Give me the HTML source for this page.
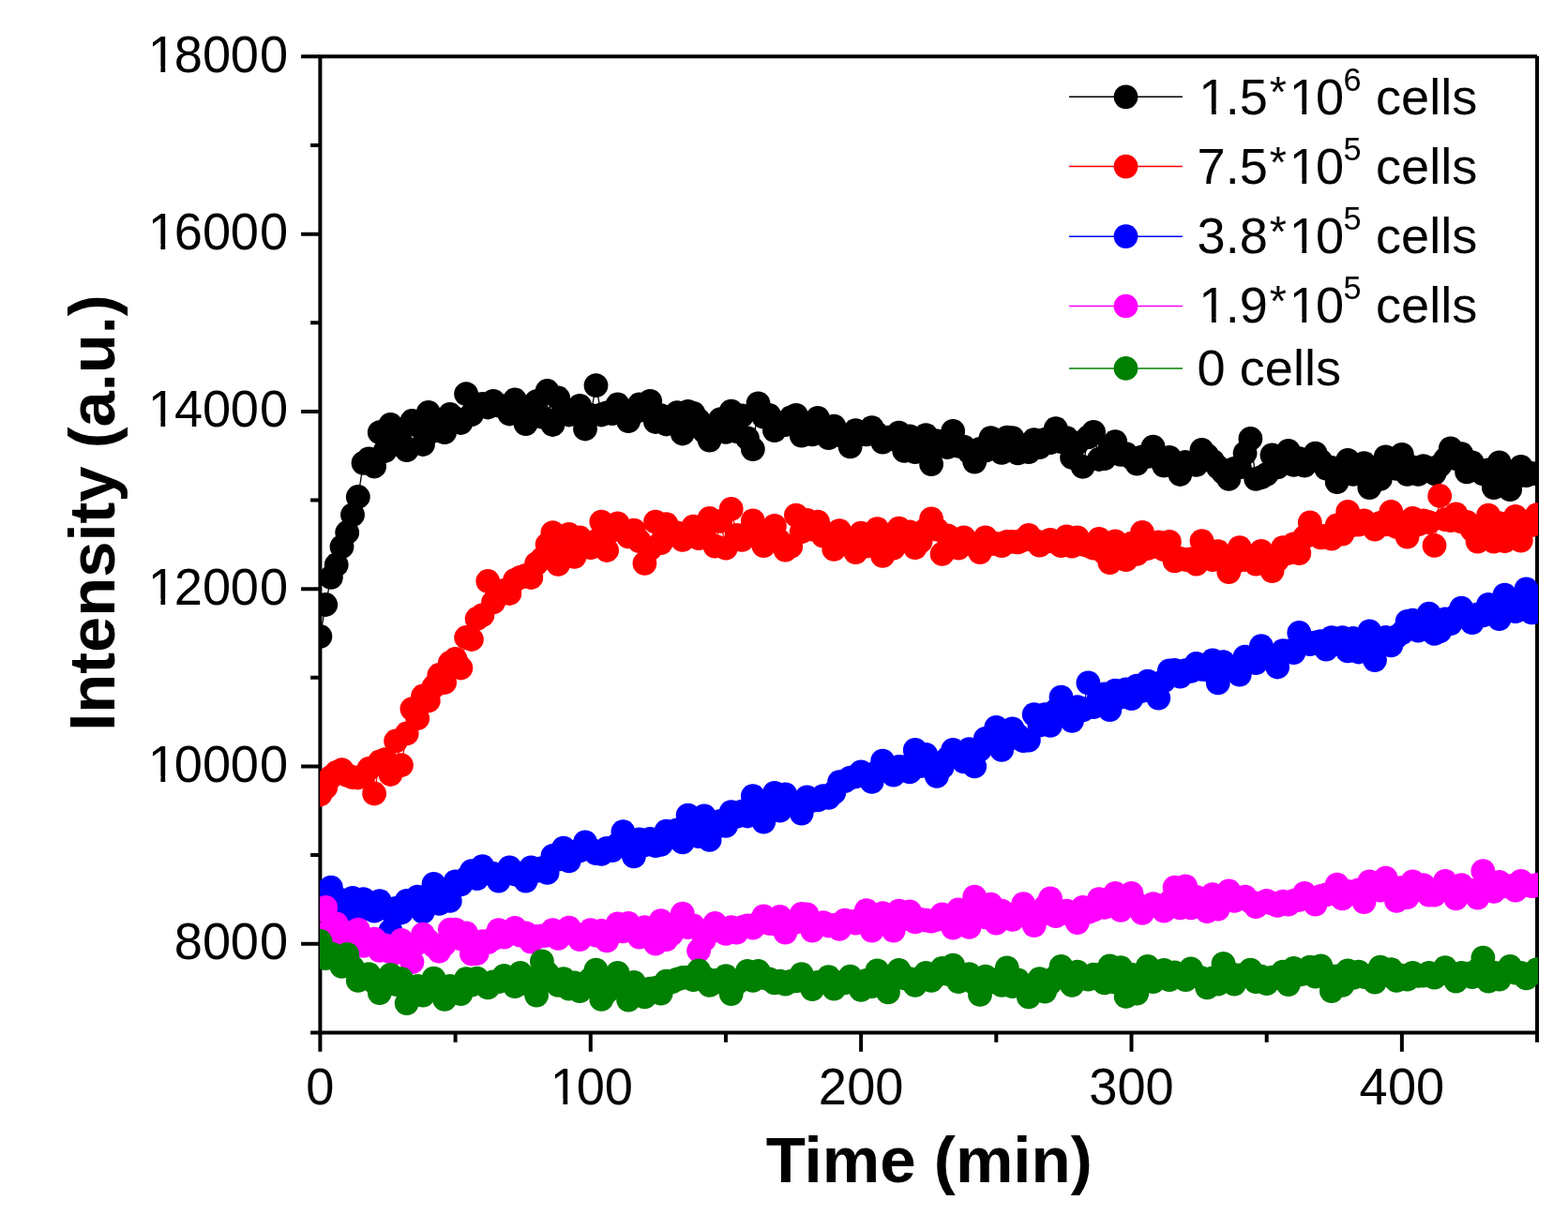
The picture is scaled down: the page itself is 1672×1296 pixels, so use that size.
<!DOCTYPE html>
<html lang="en"><head><meta charset="utf-8"><title>Intensity vs Time</title>
<style>html,body{margin:0;padding:0;background:#fff}body{width:1672px;height:1296px;overflow:hidden}svg{display:block}text{font-family:"Liberation Sans",sans-serif;fill:#000}.tk{font-size:54.2px}.ax{font-weight:bold}.lg{font-size:54.2px}.sup{font-size:34.3px}</style></head><body>
<svg width="1672" height="1296" viewBox="0 0 1672 1296">
<rect width="1672" height="1296" fill="#fff"/>
<defs><clipPath id="c"><rect x="341.00" y="60.35" width="1299.00" height="1041.05"/></clipPath></defs>
<g stroke="#000" stroke-width="4" fill="none" stroke-linecap="butt">
<path d="M341.40 60.35 H1639.05 V1101.40 H341.40 Z" stroke-linejoin="miter"/>
<path d="M341.40 1101.40H331.10M341.40 1006.76H321.10M341.40 912.12H331.10M341.40 817.48H321.10M341.40 722.84H331.10M341.40 628.20H321.10M341.40 533.55H331.10M341.40 438.91H321.10M341.40 344.27H331.10M341.40 249.63H321.10M341.40 154.99H331.10M341.40 60.35H321.10M341.40 1101.40V1121.70M485.58 1101.40V1111.70M629.77 1101.40V1121.70M773.95 1101.40V1111.70M918.13 1101.40V1121.70M1062.32 1101.40V1111.70M1206.50 1101.40V1121.70M1350.68 1101.40V1111.70M1494.87 1101.40V1121.70M1639.05 1101.40V1111.70"/>
</g>
<g clip-path="url(#c)">
<g fill="#000000" stroke="none">
<polyline fill="none" stroke="#000000" stroke-width="1.3" points="341.4,678.8 347.2,645.0 352.9,615.8 358.7,602.5 364.5,583.2 370.2,568.0 376.0,549.2 381.8,530.0 387.5,493.8 393.3,489.3 399.1,497.5 404.8,461.2 410.6,481.0 416.4,452.8 422.1,459.8 427.9,472.4 433.7,480.2 439.4,449.0 445.2,453.9 451.0,474.0 456.8,439.8 462.5,459.6 468.3,448.9 474.1,461.2 479.8,442.0 485.6,446.4 491.4,451.0 497.1,420.2 502.9,442.2 508.6,431.5 514.4,430.9 520.2,434.5 526.0,427.8 531.7,432.7 537.5,433.4 543.3,441.5 549.0,426.5 554.8,440.7 560.6,452.2 566.3,444.4 572.1,428.2 577.9,444.7 583.6,417.0 589.4,453.0 595.2,424.5 600.9,438.0 606.7,442.5 612.5,439.1 618.2,432.8 624.0,457.5 629.8,443.0 635.5,411.2 641.3,442.5 647.1,440.4 652.8,441.2 658.6,431.5 664.4,439.0 670.1,449.2 675.9,440.4 681.7,431.5 687.4,437.6 693.2,427.8 699.0,450.0 704.7,443.2 710.5,452.5 716.3,447.8 722.0,440.2 727.8,462.5 733.6,439.0 739.4,440.8 745.1,448.4 750.9,460.2 756.6,469.6 762.4,458.7 768.2,447.2 774.0,460.9 779.7,438.6 785.5,460.2 791.2,443.3 797.0,467.5 802.8,479.1 808.5,430.4 814.3,444.6 820.1,442.9 825.9,459.1 831.6,452.2 837.4,453.1 843.2,445.5 848.9,442.9 854.7,464.6 860.5,452.4 866.2,463.4 872.0,445.9 877.8,457.3 883.5,467.1 889.3,454.6 895.1,463.8 900.8,465.5 906.6,476.4 912.4,459.1 918.1,462.9 923.9,463.4 929.7,456.1 935.4,463.1 941.2,471.6 947.0,466.7 952.7,468.4 958.5,461.6 964.3,480.9 970.0,465.4 975.8,482.1 981.6,478.5 987.3,464.1 993.1,495.1 998.9,470.4 1004.6,475.1 1010.4,477.1 1016.2,459.9 1022.0,475.8 1027.7,476.6 1033.5,482.1 1039.2,492.6 1045.0,478.9 1050.8,480.7 1056.5,467.1 1062.3,475.9 1068.1,482.9 1073.8,466.6 1079.6,467.1 1085.4,483.4 1091.2,475.4 1096.9,482.1 1102.7,469.1 1108.5,477.1 1114.2,468.9 1120.0,472.1 1125.8,457.1 1131.5,471.1 1137.3,467.1 1143.1,488.0 1148.8,472.6 1154.6,497.8 1160.4,466.3 1166.1,460.9 1171.9,490.0 1177.7,489.1 1183.4,476.6 1189.2,471.1 1195.0,484.8 1200.7,484.1 1206.5,488.2 1212.3,494.6 1218.0,487.3 1223.8,486.8 1229.6,476.6 1235.3,488.3 1241.1,496.6 1246.9,487.9 1252.6,496.2 1258.4,506.0 1264.2,492.8 1269.9,493.9 1275.7,495.9 1281.5,479.9 1287.2,485.8 1293.0,491.7 1298.8,498.3 1304.5,504.2 1310.3,510.9 1316.1,500.0 1321.8,498.3 1327.6,483.3 1333.4,467.9 1339.2,510.8 1344.9,509.1 1350.7,505.8 1356.5,485.4 1362.2,498.4 1368.0,490.0 1373.8,480.9 1379.5,495.9 1385.3,489.1 1391.0,496.6 1396.8,490.2 1402.6,483.6 1408.4,491.9 1414.1,499.6 1419.9,498.9 1425.7,514.1 1431.4,503.4 1437.2,490.9 1443.0,505.9 1448.7,501.8 1454.5,494.1 1460.3,520.1 1466.0,507.5 1471.8,510.9 1477.6,487.4 1483.3,494.5 1489.1,499.9 1494.9,484.9 1500.6,505.9 1506.4,498.4 1512.2,505.9 1517.9,497.1 1523.7,499.3 1529.5,505.0 1535.2,496.7 1541.0,490.1 1546.8,478.4 1552.5,489.2 1558.3,484.1 1564.1,503.4 1569.8,493.4 1575.6,501.7 1581.4,505.4 1587.1,501.4 1592.9,520.1 1598.7,493.4 1604.5,513.5 1610.2,522.1 1616.0,509.1 1621.8,497.9 1627.5,507.1 1633.3,505.0 1639.0,505.4"/>
<circle cx="341.4" cy="678.8" r="12.9"/><circle cx="347.2" cy="645.0" r="12.9"/><circle cx="352.9" cy="615.8" r="12.9"/><circle cx="358.7" cy="602.5" r="12.9"/><circle cx="364.5" cy="583.2" r="12.9"/><circle cx="370.2" cy="568.0" r="12.9"/><circle cx="376.0" cy="549.2" r="12.9"/><circle cx="381.8" cy="530.0" r="12.9"/><circle cx="387.5" cy="493.8" r="12.9"/><circle cx="393.3" cy="489.3" r="12.9"/><circle cx="399.1" cy="497.5" r="12.9"/><circle cx="404.8" cy="461.2" r="12.9"/><circle cx="410.6" cy="481.0" r="12.9"/><circle cx="416.4" cy="452.8" r="12.9"/><circle cx="422.1" cy="459.8" r="12.9"/><circle cx="427.9" cy="472.4" r="12.9"/><circle cx="433.7" cy="480.2" r="12.9"/><circle cx="439.4" cy="449.0" r="12.9"/><circle cx="445.2" cy="453.9" r="12.9"/><circle cx="451.0" cy="474.0" r="12.9"/><circle cx="456.8" cy="439.8" r="12.9"/><circle cx="462.5" cy="459.6" r="12.9"/><circle cx="468.3" cy="448.9" r="12.9"/><circle cx="474.1" cy="461.2" r="12.9"/><circle cx="479.8" cy="442.0" r="12.9"/><circle cx="485.6" cy="446.4" r="12.9"/><circle cx="491.4" cy="451.0" r="12.9"/><circle cx="497.1" cy="420.2" r="12.9"/><circle cx="502.9" cy="442.2" r="12.9"/><circle cx="508.6" cy="431.5" r="12.9"/><circle cx="514.4" cy="430.9" r="12.9"/><circle cx="520.2" cy="434.5" r="12.9"/><circle cx="526.0" cy="427.8" r="12.9"/><circle cx="531.7" cy="432.7" r="12.9"/><circle cx="537.5" cy="433.4" r="12.9"/><circle cx="543.3" cy="441.5" r="12.9"/><circle cx="549.0" cy="426.5" r="12.9"/><circle cx="554.8" cy="440.7" r="12.9"/><circle cx="560.6" cy="452.2" r="12.9"/><circle cx="566.3" cy="444.4" r="12.9"/><circle cx="572.1" cy="428.2" r="12.9"/><circle cx="577.9" cy="444.7" r="12.9"/><circle cx="583.6" cy="417.0" r="12.9"/><circle cx="589.4" cy="453.0" r="12.9"/><circle cx="595.2" cy="424.5" r="12.9"/><circle cx="600.9" cy="438.0" r="12.9"/><circle cx="606.7" cy="442.5" r="12.9"/><circle cx="612.5" cy="439.1" r="12.9"/><circle cx="618.2" cy="432.8" r="12.9"/><circle cx="624.0" cy="457.5" r="12.9"/><circle cx="629.8" cy="443.0" r="12.9"/><circle cx="635.5" cy="411.2" r="12.9"/><circle cx="641.3" cy="442.5" r="12.9"/><circle cx="647.1" cy="440.4" r="12.9"/><circle cx="652.8" cy="441.2" r="12.9"/><circle cx="658.6" cy="431.5" r="12.9"/><circle cx="664.4" cy="439.0" r="12.9"/><circle cx="670.1" cy="449.2" r="12.9"/><circle cx="675.9" cy="440.4" r="12.9"/><circle cx="681.7" cy="431.5" r="12.9"/><circle cx="687.4" cy="437.6" r="12.9"/><circle cx="693.2" cy="427.8" r="12.9"/><circle cx="699.0" cy="450.0" r="12.9"/><circle cx="704.7" cy="443.2" r="12.9"/><circle cx="710.5" cy="452.5" r="12.9"/><circle cx="716.3" cy="447.8" r="12.9"/><circle cx="722.0" cy="440.2" r="12.9"/><circle cx="727.8" cy="462.5" r="12.9"/><circle cx="733.6" cy="439.0" r="12.9"/><circle cx="739.4" cy="440.8" r="12.9"/><circle cx="745.1" cy="448.4" r="12.9"/><circle cx="750.9" cy="460.2" r="12.9"/><circle cx="756.6" cy="469.6" r="12.9"/><circle cx="762.4" cy="458.7" r="12.9"/><circle cx="768.2" cy="447.2" r="12.9"/><circle cx="774.0" cy="460.9" r="12.9"/><circle cx="779.7" cy="438.6" r="12.9"/><circle cx="785.5" cy="460.2" r="12.9"/><circle cx="791.2" cy="443.3" r="12.9"/><circle cx="797.0" cy="467.5" r="12.9"/><circle cx="802.8" cy="479.1" r="12.9"/><circle cx="808.5" cy="430.4" r="12.9"/><circle cx="814.3" cy="444.6" r="12.9"/><circle cx="820.1" cy="442.9" r="12.9"/><circle cx="825.9" cy="459.1" r="12.9"/><circle cx="831.6" cy="452.2" r="12.9"/><circle cx="837.4" cy="453.1" r="12.9"/><circle cx="843.2" cy="445.5" r="12.9"/><circle cx="848.9" cy="442.9" r="12.9"/><circle cx="854.7" cy="464.6" r="12.9"/><circle cx="860.5" cy="452.4" r="12.9"/><circle cx="866.2" cy="463.4" r="12.9"/><circle cx="872.0" cy="445.9" r="12.9"/><circle cx="877.8" cy="457.3" r="12.9"/><circle cx="883.5" cy="467.1" r="12.9"/><circle cx="889.3" cy="454.6" r="12.9"/><circle cx="895.1" cy="463.8" r="12.9"/><circle cx="900.8" cy="465.5" r="12.9"/><circle cx="906.6" cy="476.4" r="12.9"/><circle cx="912.4" cy="459.1" r="12.9"/><circle cx="918.1" cy="462.9" r="12.9"/><circle cx="923.9" cy="463.4" r="12.9"/><circle cx="929.7" cy="456.1" r="12.9"/><circle cx="935.4" cy="463.1" r="12.9"/><circle cx="941.2" cy="471.6" r="12.9"/><circle cx="947.0" cy="466.7" r="12.9"/><circle cx="952.7" cy="468.4" r="12.9"/><circle cx="958.5" cy="461.6" r="12.9"/><circle cx="964.3" cy="480.9" r="12.9"/><circle cx="970.0" cy="465.4" r="12.9"/><circle cx="975.8" cy="482.1" r="12.9"/><circle cx="981.6" cy="478.5" r="12.9"/><circle cx="987.3" cy="464.1" r="12.9"/><circle cx="993.1" cy="495.1" r="12.9"/><circle cx="998.9" cy="470.4" r="12.9"/><circle cx="1004.6" cy="475.1" r="12.9"/><circle cx="1010.4" cy="477.1" r="12.9"/><circle cx="1016.2" cy="459.9" r="12.9"/><circle cx="1022.0" cy="475.8" r="12.9"/><circle cx="1027.7" cy="476.6" r="12.9"/><circle cx="1033.5" cy="482.1" r="12.9"/><circle cx="1039.2" cy="492.6" r="12.9"/><circle cx="1045.0" cy="478.9" r="12.9"/><circle cx="1050.8" cy="480.7" r="12.9"/><circle cx="1056.5" cy="467.1" r="12.9"/><circle cx="1062.3" cy="475.9" r="12.9"/><circle cx="1068.1" cy="482.9" r="12.9"/><circle cx="1073.8" cy="466.6" r="12.9"/><circle cx="1079.6" cy="467.1" r="12.9"/><circle cx="1085.4" cy="483.4" r="12.9"/><circle cx="1091.2" cy="475.4" r="12.9"/><circle cx="1096.9" cy="482.1" r="12.9"/><circle cx="1102.7" cy="469.1" r="12.9"/><circle cx="1108.5" cy="477.1" r="12.9"/><circle cx="1114.2" cy="468.9" r="12.9"/><circle cx="1120.0" cy="472.1" r="12.9"/><circle cx="1125.8" cy="457.1" r="12.9"/><circle cx="1131.5" cy="471.1" r="12.9"/><circle cx="1137.3" cy="467.1" r="12.9"/><circle cx="1143.1" cy="488.0" r="12.9"/><circle cx="1148.8" cy="472.6" r="12.9"/><circle cx="1154.6" cy="497.8" r="12.9"/><circle cx="1160.4" cy="466.3" r="12.9"/><circle cx="1166.1" cy="460.9" r="12.9"/><circle cx="1171.9" cy="490.0" r="12.9"/><circle cx="1177.7" cy="489.1" r="12.9"/><circle cx="1183.4" cy="476.6" r="12.9"/><circle cx="1189.2" cy="471.1" r="12.9"/><circle cx="1195.0" cy="484.8" r="12.9"/><circle cx="1200.7" cy="484.1" r="12.9"/><circle cx="1206.5" cy="488.2" r="12.9"/><circle cx="1212.3" cy="494.6" r="12.9"/><circle cx="1218.0" cy="487.3" r="12.9"/><circle cx="1223.8" cy="486.8" r="12.9"/><circle cx="1229.6" cy="476.6" r="12.9"/><circle cx="1235.3" cy="488.3" r="12.9"/><circle cx="1241.1" cy="496.6" r="12.9"/><circle cx="1246.9" cy="487.9" r="12.9"/><circle cx="1252.6" cy="496.2" r="12.9"/><circle cx="1258.4" cy="506.0" r="12.9"/><circle cx="1264.2" cy="492.8" r="12.9"/><circle cx="1269.9" cy="493.9" r="12.9"/><circle cx="1275.7" cy="495.9" r="12.9"/><circle cx="1281.5" cy="479.9" r="12.9"/><circle cx="1287.2" cy="485.8" r="12.9"/><circle cx="1293.0" cy="491.7" r="12.9"/><circle cx="1298.8" cy="498.3" r="12.9"/><circle cx="1304.5" cy="504.2" r="12.9"/><circle cx="1310.3" cy="510.9" r="12.9"/><circle cx="1316.1" cy="500.0" r="12.9"/><circle cx="1321.8" cy="498.3" r="12.9"/><circle cx="1327.6" cy="483.3" r="12.9"/><circle cx="1333.4" cy="467.9" r="12.9"/><circle cx="1339.2" cy="510.8" r="12.9"/><circle cx="1344.9" cy="509.1" r="12.9"/><circle cx="1350.7" cy="505.8" r="12.9"/><circle cx="1356.5" cy="485.4" r="12.9"/><circle cx="1362.2" cy="498.4" r="12.9"/><circle cx="1368.0" cy="490.0" r="12.9"/><circle cx="1373.8" cy="480.9" r="12.9"/><circle cx="1379.5" cy="495.9" r="12.9"/><circle cx="1385.3" cy="489.1" r="12.9"/><circle cx="1391.0" cy="496.6" r="12.9"/><circle cx="1396.8" cy="490.2" r="12.9"/><circle cx="1402.6" cy="483.6" r="12.9"/><circle cx="1408.4" cy="491.9" r="12.9"/><circle cx="1414.1" cy="499.6" r="12.9"/><circle cx="1419.9" cy="498.9" r="12.9"/><circle cx="1425.7" cy="514.1" r="12.9"/><circle cx="1431.4" cy="503.4" r="12.9"/><circle cx="1437.2" cy="490.9" r="12.9"/><circle cx="1443.0" cy="505.9" r="12.9"/><circle cx="1448.7" cy="501.8" r="12.9"/><circle cx="1454.5" cy="494.1" r="12.9"/><circle cx="1460.3" cy="520.1" r="12.9"/><circle cx="1466.0" cy="507.5" r="12.9"/><circle cx="1471.8" cy="510.9" r="12.9"/><circle cx="1477.6" cy="487.4" r="12.9"/><circle cx="1483.3" cy="494.5" r="12.9"/><circle cx="1489.1" cy="499.9" r="12.9"/><circle cx="1494.9" cy="484.9" r="12.9"/><circle cx="1500.6" cy="505.9" r="12.9"/><circle cx="1506.4" cy="498.4" r="12.9"/><circle cx="1512.2" cy="505.9" r="12.9"/><circle cx="1517.9" cy="497.1" r="12.9"/><circle cx="1523.7" cy="499.3" r="12.9"/><circle cx="1529.5" cy="505.0" r="12.9"/><circle cx="1535.2" cy="496.7" r="12.9"/><circle cx="1541.0" cy="490.1" r="12.9"/><circle cx="1546.8" cy="478.4" r="12.9"/><circle cx="1552.5" cy="489.2" r="12.9"/><circle cx="1558.3" cy="484.1" r="12.9"/><circle cx="1564.1" cy="503.4" r="12.9"/><circle cx="1569.8" cy="493.4" r="12.9"/><circle cx="1575.6" cy="501.7" r="12.9"/><circle cx="1581.4" cy="505.4" r="12.9"/><circle cx="1587.1" cy="501.4" r="12.9"/><circle cx="1592.9" cy="520.1" r="12.9"/><circle cx="1598.7" cy="493.4" r="12.9"/><circle cx="1604.5" cy="513.5" r="12.9"/><circle cx="1610.2" cy="522.1" r="12.9"/><circle cx="1616.0" cy="509.1" r="12.9"/><circle cx="1621.8" cy="497.9" r="12.9"/><circle cx="1627.5" cy="507.1" r="12.9"/><circle cx="1633.3" cy="505.0" r="12.9"/><circle cx="1639.0" cy="505.4" r="12.9"/>
</g>
<g fill="#ff0000" stroke="none">
<polyline fill="none" stroke="#ff0000" stroke-width="1.3" points="341.4,847.5 347.2,840.0 352.9,828.8 358.7,823.8 364.5,821.2 370.2,827.0 376.0,829.2 381.8,829.5 387.5,828.0 393.3,820.0 399.1,846.5 404.8,812.5 410.6,810.2 416.4,826.0 422.1,790.5 427.9,816.2 433.7,782.5 439.4,756.2 445.2,766.2 451.0,742.5 456.8,747.5 462.5,732.5 468.3,720.0 474.1,728.0 479.8,707.0 485.6,703.0 491.4,712.5 497.1,680.0 502.9,682.0 508.6,660.0 514.4,656.2 520.2,620.0 526.0,642.5 531.7,635.0 537.5,630.0 543.3,633.0 549.0,618.8 554.8,615.8 560.6,613.8 566.3,616.0 572.1,601.2 577.9,596.2 583.6,580.8 589.4,568.2 595.2,601.8 600.9,591.1 606.7,570.0 612.5,593.8 618.2,573.5 624.0,579.4 629.8,584.2 635.5,577.2 641.3,556.6 647.1,587.0 652.8,565.8 658.6,558.4 664.4,566.1 670.1,572.4 675.9,565.6 681.7,577.1 687.4,600.8 693.2,585.5 699.0,556.6 704.7,579.1 710.5,559.1 716.3,568.6 722.0,568.4 727.8,575.9 733.6,568.2 739.4,561.6 745.1,574.1 750.9,569.0 756.6,552.9 762.4,582.6 768.2,555.9 774.0,584.6 779.7,542.9 785.5,570.8 791.2,575.9 797.0,569.4 802.8,555.4 808.5,572.6 814.3,582.1 820.1,575.2 825.9,560.9 831.6,577.5 837.4,586.6 843.2,583.0 848.9,549.6 854.7,567.1 860.5,554.9 866.2,564.6 872.0,556.6 877.8,571.6 883.5,569.4 889.3,585.9 895.1,566.1 900.8,579.5 906.6,575.4 912.4,589.1 918.1,568.6 923.9,582.6 929.7,573.6 935.4,564.1 941.2,592.9 947.0,580.8 952.7,584.6 958.5,563.6 964.3,573.6 970.0,567.5 975.8,584.1 981.6,577.5 987.3,564.9 993.1,553.4 998.9,564.7 1004.6,590.9 1010.4,571.4 1016.2,578.7 1022.0,584.6 1027.7,573.4 1033.5,580.1 1039.2,580.7 1045.0,589.1 1050.8,573.4 1056.5,580.1 1062.3,579.8 1068.1,582.1 1073.8,577.9 1079.6,577.9 1085.4,578.4 1091.2,575.9 1096.9,570.9 1102.7,576.5 1108.5,581.6 1114.2,578.2 1120.0,575.9 1125.8,578.4 1131.5,582.1 1137.3,572.4 1143.1,582.6 1148.8,573.4 1154.6,580.7 1160.4,582.1 1166.1,584.6 1171.9,574.9 1177.7,589.6 1183.4,600.1 1189.2,577.4 1195.0,583.5 1200.7,597.1 1206.5,579.7 1212.3,590.9 1218.0,567.9 1223.8,585.0 1229.6,582.9 1235.3,578.4 1241.1,586.1 1246.9,577.9 1252.6,598.4 1258.4,596.0 1264.2,597.0 1269.9,596.5 1275.7,601.6 1281.5,577.1 1287.2,586.1 1293.0,597.1 1298.8,588.1 1304.5,597.8 1310.3,610.1 1316.1,600.4 1321.8,584.1 1327.6,597.0 1333.4,594.7 1339.2,601.6 1344.9,587.9 1350.7,598.6 1356.5,609.1 1362.2,597.3 1368.0,584.1 1373.8,590.0 1379.5,580.4 1385.3,590.1 1391.0,573.0 1396.8,557.4 1402.6,570.1 1408.4,573.3 1414.1,571.6 1419.9,574.6 1425.7,560.4 1431.4,569.6 1437.2,545.9 1443.0,560.0 1448.7,559.7 1454.5,555.4 1460.3,559.5 1466.0,564.6 1471.8,557.8 1477.6,559.3 1483.3,545.9 1489.1,562.0 1494.9,557.4 1500.6,572.6 1506.4,552.9 1512.2,559.5 1517.9,555.4 1523.7,557.1 1529.5,581.8 1535.2,529.0 1541.0,554.1 1546.8,555.1 1552.5,548.4 1558.3,556.4 1564.1,556.8 1569.8,565.1 1575.6,577.6 1581.4,569.6 1587.1,549.6 1592.9,577.6 1598.7,558.1 1604.5,577.1 1610.2,558.6 1616.0,550.9 1621.8,576.6 1627.5,560.3 1633.3,560.0 1639.0,549.1"/>
<circle cx="341.4" cy="847.5" r="12.9"/><circle cx="347.2" cy="840.0" r="12.9"/><circle cx="352.9" cy="828.8" r="12.9"/><circle cx="358.7" cy="823.8" r="12.9"/><circle cx="364.5" cy="821.2" r="12.9"/><circle cx="370.2" cy="827.0" r="12.9"/><circle cx="376.0" cy="829.2" r="12.9"/><circle cx="381.8" cy="829.5" r="12.9"/><circle cx="387.5" cy="828.0" r="12.9"/><circle cx="393.3" cy="820.0" r="12.9"/><circle cx="399.1" cy="846.5" r="12.9"/><circle cx="404.8" cy="812.5" r="12.9"/><circle cx="410.6" cy="810.2" r="12.9"/><circle cx="416.4" cy="826.0" r="12.9"/><circle cx="422.1" cy="790.5" r="12.9"/><circle cx="427.9" cy="816.2" r="12.9"/><circle cx="433.7" cy="782.5" r="12.9"/><circle cx="439.4" cy="756.2" r="12.9"/><circle cx="445.2" cy="766.2" r="12.9"/><circle cx="451.0" cy="742.5" r="12.9"/><circle cx="456.8" cy="747.5" r="12.9"/><circle cx="462.5" cy="732.5" r="12.9"/><circle cx="468.3" cy="720.0" r="12.9"/><circle cx="474.1" cy="728.0" r="12.9"/><circle cx="479.8" cy="707.0" r="12.9"/><circle cx="485.6" cy="703.0" r="12.9"/><circle cx="491.4" cy="712.5" r="12.9"/><circle cx="497.1" cy="680.0" r="12.9"/><circle cx="502.9" cy="682.0" r="12.9"/><circle cx="508.6" cy="660.0" r="12.9"/><circle cx="514.4" cy="656.2" r="12.9"/><circle cx="520.2" cy="620.0" r="12.9"/><circle cx="526.0" cy="642.5" r="12.9"/><circle cx="531.7" cy="635.0" r="12.9"/><circle cx="537.5" cy="630.0" r="12.9"/><circle cx="543.3" cy="633.0" r="12.9"/><circle cx="549.0" cy="618.8" r="12.9"/><circle cx="554.8" cy="615.8" r="12.9"/><circle cx="560.6" cy="613.8" r="12.9"/><circle cx="566.3" cy="616.0" r="12.9"/><circle cx="572.1" cy="601.2" r="12.9"/><circle cx="577.9" cy="596.2" r="12.9"/><circle cx="583.6" cy="580.8" r="12.9"/><circle cx="589.4" cy="568.2" r="12.9"/><circle cx="595.2" cy="601.8" r="12.9"/><circle cx="600.9" cy="591.1" r="12.9"/><circle cx="606.7" cy="570.0" r="12.9"/><circle cx="612.5" cy="593.8" r="12.9"/><circle cx="618.2" cy="573.5" r="12.9"/><circle cx="624.0" cy="579.4" r="12.9"/><circle cx="629.8" cy="584.2" r="12.9"/><circle cx="635.5" cy="577.2" r="12.9"/><circle cx="641.3" cy="556.6" r="12.9"/><circle cx="647.1" cy="587.0" r="12.9"/><circle cx="652.8" cy="565.8" r="12.9"/><circle cx="658.6" cy="558.4" r="12.9"/><circle cx="664.4" cy="566.1" r="12.9"/><circle cx="670.1" cy="572.4" r="12.9"/><circle cx="675.9" cy="565.6" r="12.9"/><circle cx="681.7" cy="577.1" r="12.9"/><circle cx="687.4" cy="600.8" r="12.9"/><circle cx="693.2" cy="585.5" r="12.9"/><circle cx="699.0" cy="556.6" r="12.9"/><circle cx="704.7" cy="579.1" r="12.9"/><circle cx="710.5" cy="559.1" r="12.9"/><circle cx="716.3" cy="568.6" r="12.9"/><circle cx="722.0" cy="568.4" r="12.9"/><circle cx="727.8" cy="575.9" r="12.9"/><circle cx="733.6" cy="568.2" r="12.9"/><circle cx="739.4" cy="561.6" r="12.9"/><circle cx="745.1" cy="574.1" r="12.9"/><circle cx="750.9" cy="569.0" r="12.9"/><circle cx="756.6" cy="552.9" r="12.9"/><circle cx="762.4" cy="582.6" r="12.9"/><circle cx="768.2" cy="555.9" r="12.9"/><circle cx="774.0" cy="584.6" r="12.9"/><circle cx="779.7" cy="542.9" r="12.9"/><circle cx="785.5" cy="570.8" r="12.9"/><circle cx="791.2" cy="575.9" r="12.9"/><circle cx="797.0" cy="569.4" r="12.9"/><circle cx="802.8" cy="555.4" r="12.9"/><circle cx="808.5" cy="572.6" r="12.9"/><circle cx="814.3" cy="582.1" r="12.9"/><circle cx="820.1" cy="575.2" r="12.9"/><circle cx="825.9" cy="560.9" r="12.9"/><circle cx="831.6" cy="577.5" r="12.9"/><circle cx="837.4" cy="586.6" r="12.9"/><circle cx="843.2" cy="583.0" r="12.9"/><circle cx="848.9" cy="549.6" r="12.9"/><circle cx="854.7" cy="567.1" r="12.9"/><circle cx="860.5" cy="554.9" r="12.9"/><circle cx="866.2" cy="564.6" r="12.9"/><circle cx="872.0" cy="556.6" r="12.9"/><circle cx="877.8" cy="571.6" r="12.9"/><circle cx="883.5" cy="569.4" r="12.9"/><circle cx="889.3" cy="585.9" r="12.9"/><circle cx="895.1" cy="566.1" r="12.9"/><circle cx="900.8" cy="579.5" r="12.9"/><circle cx="906.6" cy="575.4" r="12.9"/><circle cx="912.4" cy="589.1" r="12.9"/><circle cx="918.1" cy="568.6" r="12.9"/><circle cx="923.9" cy="582.6" r="12.9"/><circle cx="929.7" cy="573.6" r="12.9"/><circle cx="935.4" cy="564.1" r="12.9"/><circle cx="941.2" cy="592.9" r="12.9"/><circle cx="947.0" cy="580.8" r="12.9"/><circle cx="952.7" cy="584.6" r="12.9"/><circle cx="958.5" cy="563.6" r="12.9"/><circle cx="964.3" cy="573.6" r="12.9"/><circle cx="970.0" cy="567.5" r="12.9"/><circle cx="975.8" cy="584.1" r="12.9"/><circle cx="981.6" cy="577.5" r="12.9"/><circle cx="987.3" cy="564.9" r="12.9"/><circle cx="993.1" cy="553.4" r="12.9"/><circle cx="998.9" cy="564.7" r="12.9"/><circle cx="1004.6" cy="590.9" r="12.9"/><circle cx="1010.4" cy="571.4" r="12.9"/><circle cx="1016.2" cy="578.7" r="12.9"/><circle cx="1022.0" cy="584.6" r="12.9"/><circle cx="1027.7" cy="573.4" r="12.9"/><circle cx="1033.5" cy="580.1" r="12.9"/><circle cx="1039.2" cy="580.7" r="12.9"/><circle cx="1045.0" cy="589.1" r="12.9"/><circle cx="1050.8" cy="573.4" r="12.9"/><circle cx="1056.5" cy="580.1" r="12.9"/><circle cx="1062.3" cy="579.8" r="12.9"/><circle cx="1068.1" cy="582.1" r="12.9"/><circle cx="1073.8" cy="577.9" r="12.9"/><circle cx="1079.6" cy="577.9" r="12.9"/><circle cx="1085.4" cy="578.4" r="12.9"/><circle cx="1091.2" cy="575.9" r="12.9"/><circle cx="1096.9" cy="570.9" r="12.9"/><circle cx="1102.7" cy="576.5" r="12.9"/><circle cx="1108.5" cy="581.6" r="12.9"/><circle cx="1114.2" cy="578.2" r="12.9"/><circle cx="1120.0" cy="575.9" r="12.9"/><circle cx="1125.8" cy="578.4" r="12.9"/><circle cx="1131.5" cy="582.1" r="12.9"/><circle cx="1137.3" cy="572.4" r="12.9"/><circle cx="1143.1" cy="582.6" r="12.9"/><circle cx="1148.8" cy="573.4" r="12.9"/><circle cx="1154.6" cy="580.7" r="12.9"/><circle cx="1160.4" cy="582.1" r="12.9"/><circle cx="1166.1" cy="584.6" r="12.9"/><circle cx="1171.9" cy="574.9" r="12.9"/><circle cx="1177.7" cy="589.6" r="12.9"/><circle cx="1183.4" cy="600.1" r="12.9"/><circle cx="1189.2" cy="577.4" r="12.9"/><circle cx="1195.0" cy="583.5" r="12.9"/><circle cx="1200.7" cy="597.1" r="12.9"/><circle cx="1206.5" cy="579.7" r="12.9"/><circle cx="1212.3" cy="590.9" r="12.9"/><circle cx="1218.0" cy="567.9" r="12.9"/><circle cx="1223.8" cy="585.0" r="12.9"/><circle cx="1229.6" cy="582.9" r="12.9"/><circle cx="1235.3" cy="578.4" r="12.9"/><circle cx="1241.1" cy="586.1" r="12.9"/><circle cx="1246.9" cy="577.9" r="12.9"/><circle cx="1252.6" cy="598.4" r="12.9"/><circle cx="1258.4" cy="596.0" r="12.9"/><circle cx="1264.2" cy="597.0" r="12.9"/><circle cx="1269.9" cy="596.5" r="12.9"/><circle cx="1275.7" cy="601.6" r="12.9"/><circle cx="1281.5" cy="577.1" r="12.9"/><circle cx="1287.2" cy="586.1" r="12.9"/><circle cx="1293.0" cy="597.1" r="12.9"/><circle cx="1298.8" cy="588.1" r="12.9"/><circle cx="1304.5" cy="597.8" r="12.9"/><circle cx="1310.3" cy="610.1" r="12.9"/><circle cx="1316.1" cy="600.4" r="12.9"/><circle cx="1321.8" cy="584.1" r="12.9"/><circle cx="1327.6" cy="597.0" r="12.9"/><circle cx="1333.4" cy="594.7" r="12.9"/><circle cx="1339.2" cy="601.6" r="12.9"/><circle cx="1344.9" cy="587.9" r="12.9"/><circle cx="1350.7" cy="598.6" r="12.9"/><circle cx="1356.5" cy="609.1" r="12.9"/><circle cx="1362.2" cy="597.3" r="12.9"/><circle cx="1368.0" cy="584.1" r="12.9"/><circle cx="1373.8" cy="590.0" r="12.9"/><circle cx="1379.5" cy="580.4" r="12.9"/><circle cx="1385.3" cy="590.1" r="12.9"/><circle cx="1391.0" cy="573.0" r="12.9"/><circle cx="1396.8" cy="557.4" r="12.9"/><circle cx="1402.6" cy="570.1" r="12.9"/><circle cx="1408.4" cy="573.3" r="12.9"/><circle cx="1414.1" cy="571.6" r="12.9"/><circle cx="1419.9" cy="574.6" r="12.9"/><circle cx="1425.7" cy="560.4" r="12.9"/><circle cx="1431.4" cy="569.6" r="12.9"/><circle cx="1437.2" cy="545.9" r="12.9"/><circle cx="1443.0" cy="560.0" r="12.9"/><circle cx="1448.7" cy="559.7" r="12.9"/><circle cx="1454.5" cy="555.4" r="12.9"/><circle cx="1460.3" cy="559.5" r="12.9"/><circle cx="1466.0" cy="564.6" r="12.9"/><circle cx="1471.8" cy="557.8" r="12.9"/><circle cx="1477.6" cy="559.3" r="12.9"/><circle cx="1483.3" cy="545.9" r="12.9"/><circle cx="1489.1" cy="562.0" r="12.9"/><circle cx="1494.9" cy="557.4" r="12.9"/><circle cx="1500.6" cy="572.6" r="12.9"/><circle cx="1506.4" cy="552.9" r="12.9"/><circle cx="1512.2" cy="559.5" r="12.9"/><circle cx="1517.9" cy="555.4" r="12.9"/><circle cx="1523.7" cy="557.1" r="12.9"/><circle cx="1529.5" cy="581.8" r="12.9"/><circle cx="1535.2" cy="529.0" r="12.9"/><circle cx="1541.0" cy="554.1" r="12.9"/><circle cx="1546.8" cy="555.1" r="12.9"/><circle cx="1552.5" cy="548.4" r="12.9"/><circle cx="1558.3" cy="556.4" r="12.9"/><circle cx="1564.1" cy="556.8" r="12.9"/><circle cx="1569.8" cy="565.1" r="12.9"/><circle cx="1575.6" cy="577.6" r="12.9"/><circle cx="1581.4" cy="569.6" r="12.9"/><circle cx="1587.1" cy="549.6" r="12.9"/><circle cx="1592.9" cy="577.6" r="12.9"/><circle cx="1598.7" cy="558.1" r="12.9"/><circle cx="1604.5" cy="577.1" r="12.9"/><circle cx="1610.2" cy="558.6" r="12.9"/><circle cx="1616.0" cy="550.9" r="12.9"/><circle cx="1621.8" cy="576.6" r="12.9"/><circle cx="1627.5" cy="560.3" r="12.9"/><circle cx="1633.3" cy="560.0" r="12.9"/><circle cx="1639.0" cy="549.1" r="12.9"/>
</g>
<g fill="#0000ff" stroke="none">
<polyline fill="none" stroke="#0000ff" stroke-width="1.3" points="341.4,952.4 347.2,951.0 352.9,946.6 358.7,966.2 364.5,960.2 370.2,970.0 376.0,957.9 381.8,972.5 387.5,959.1 393.3,965.9 399.1,971.6 404.8,961.1 410.6,969.0 416.4,992.8 422.1,968.9 427.9,973.5 433.7,960.8 439.4,965.9 445.2,956.6 451.0,972.6 456.8,955.5 462.5,942.9 468.3,963.9 474.1,954.4 479.8,960.9 485.6,940.4 491.4,943.4 497.1,937.1 502.9,929.1 508.6,937.1 514.4,924.1 520.2,931.4 526.0,931.8 531.7,939.6 537.5,932.4 543.3,925.4 549.0,932.5 554.8,932.5 560.6,939.6 566.3,925.4 572.1,928.8 577.9,926.1 583.6,930.9 589.4,912.9 595.2,916.7 600.9,904.6 606.7,918.4 612.5,909.1 618.2,907.5 624.0,898.4 629.8,905.9 635.5,910.1 641.3,910.9 647.1,904.9 652.8,907.1 658.6,900.9 664.4,887.1 670.1,903.8 675.9,913.4 681.7,895.4 687.4,901.4 693.2,894.9 699.0,902.1 704.7,900.9 710.5,886.6 716.3,892.8 722.0,885.4 727.8,898.4 733.6,869.6 739.4,886.2 745.1,892.1 750.9,870.4 756.6,895.9 762.4,882.9 768.2,875.8 774.0,880.9 779.7,866.1 785.5,870.8 791.2,865.6 797.0,870.5 802.8,849.1 808.5,869.2 814.3,876.6 820.1,864.6 825.9,845.9 831.6,864.6 837.4,847.4 843.2,858.1 848.9,856.9 854.7,867.6 860.5,850.4 866.2,854.0 872.0,853.4 877.8,849.1 883.5,850.9 889.3,845.4 895.1,834.1 900.8,833.2 906.6,829.6 912.4,828.4 918.1,823.4 923.9,826.6 929.7,833.9 935.4,823.3 941.2,811.6 947.0,821.1 952.7,826.6 958.5,817.9 964.3,818.2 970.0,823.4 975.8,799.9 981.6,817.2 987.3,804.9 993.1,819.0 998.9,827.9 1004.6,818.4 1010.4,808.9 1016.2,799.9 1022.0,807.6 1027.7,812.4 1033.5,799.1 1039.2,817.4 1045.0,799.6 1050.8,787.9 1056.5,789.9 1062.3,775.9 1068.1,799.9 1073.8,789.4 1079.6,777.4 1085.4,784.6 1091.2,790.1 1096.9,789.6 1102.7,762.1 1108.5,773.7 1114.2,762.1 1120.0,773.8 1125.8,757.8 1131.5,743.6 1137.3,755.1 1143.1,768.8 1148.8,754.1 1154.6,757.4 1160.4,728.4 1166.1,754.1 1171.9,744.4 1177.7,740.4 1183.4,757.1 1189.2,736.6 1195.0,743.6 1200.7,735.4 1206.5,745.1 1212.3,731.6 1218.0,737.0 1223.8,726.6 1229.6,731.8 1235.3,744.6 1241.1,726.2 1246.9,715.4 1252.6,714.9 1258.4,721.6 1264.2,715.1 1269.9,715.9 1275.7,707.9 1281.5,713.8 1287.2,714.5 1293.0,704.5 1298.8,728.4 1304.5,706.2 1310.3,712.8 1316.1,713.8 1321.8,719.6 1327.6,700.6 1333.4,704.0 1339.2,707.1 1344.9,689.1 1350.7,701.3 1356.5,699.6 1362.2,711.5 1368.0,694.1 1373.8,694.5 1379.5,696.1 1385.3,674.9 1391.0,683.7 1396.8,687.1 1402.6,685.4 1408.4,684.1 1414.1,692.6 1419.9,680.1 1425.7,686.8 1431.4,680.1 1437.2,694.4 1443.0,680.9 1448.7,695.5 1454.5,690.4 1460.3,673.4 1466.0,704.1 1471.8,685.7 1477.6,679.9 1483.3,688.4 1489.1,679.1 1494.9,675.1 1500.6,662.9 1506.4,661.6 1512.2,672.6 1517.9,665.0 1523.7,654.6 1529.5,675.9 1535.2,673.4 1541.0,660.4 1546.8,665.1 1552.5,657.2 1558.3,648.6 1564.1,657.6 1569.8,664.1 1575.6,655.4 1581.4,656.3 1587.1,644.9 1592.9,652.9 1598.7,660.1 1604.5,634.6 1610.2,641.1 1616.0,652.1 1621.8,637.9 1627.5,628.4 1633.3,653.4 1639.0,640.0"/>
<circle cx="341.4" cy="952.4" r="12.9"/><circle cx="347.2" cy="951.0" r="12.9"/><circle cx="352.9" cy="946.6" r="12.9"/><circle cx="358.7" cy="966.2" r="12.9"/><circle cx="364.5" cy="960.2" r="12.9"/><circle cx="370.2" cy="970.0" r="12.9"/><circle cx="376.0" cy="957.9" r="12.9"/><circle cx="381.8" cy="972.5" r="12.9"/><circle cx="387.5" cy="959.1" r="12.9"/><circle cx="393.3" cy="965.9" r="12.9"/><circle cx="399.1" cy="971.6" r="12.9"/><circle cx="404.8" cy="961.1" r="12.9"/><circle cx="410.6" cy="969.0" r="12.9"/><circle cx="416.4" cy="992.8" r="12.9"/><circle cx="422.1" cy="968.9" r="12.9"/><circle cx="427.9" cy="973.5" r="12.9"/><circle cx="433.7" cy="960.8" r="12.9"/><circle cx="439.4" cy="965.9" r="12.9"/><circle cx="445.2" cy="956.6" r="12.9"/><circle cx="451.0" cy="972.6" r="12.9"/><circle cx="456.8" cy="955.5" r="12.9"/><circle cx="462.5" cy="942.9" r="12.9"/><circle cx="468.3" cy="963.9" r="12.9"/><circle cx="474.1" cy="954.4" r="12.9"/><circle cx="479.8" cy="960.9" r="12.9"/><circle cx="485.6" cy="940.4" r="12.9"/><circle cx="491.4" cy="943.4" r="12.9"/><circle cx="497.1" cy="937.1" r="12.9"/><circle cx="502.9" cy="929.1" r="12.9"/><circle cx="508.6" cy="937.1" r="12.9"/><circle cx="514.4" cy="924.1" r="12.9"/><circle cx="520.2" cy="931.4" r="12.9"/><circle cx="526.0" cy="931.8" r="12.9"/><circle cx="531.7" cy="939.6" r="12.9"/><circle cx="537.5" cy="932.4" r="12.9"/><circle cx="543.3" cy="925.4" r="12.9"/><circle cx="549.0" cy="932.5" r="12.9"/><circle cx="554.8" cy="932.5" r="12.9"/><circle cx="560.6" cy="939.6" r="12.9"/><circle cx="566.3" cy="925.4" r="12.9"/><circle cx="572.1" cy="928.8" r="12.9"/><circle cx="577.9" cy="926.1" r="12.9"/><circle cx="583.6" cy="930.9" r="12.9"/><circle cx="589.4" cy="912.9" r="12.9"/><circle cx="595.2" cy="916.7" r="12.9"/><circle cx="600.9" cy="904.6" r="12.9"/><circle cx="606.7" cy="918.4" r="12.9"/><circle cx="612.5" cy="909.1" r="12.9"/><circle cx="618.2" cy="907.5" r="12.9"/><circle cx="624.0" cy="898.4" r="12.9"/><circle cx="629.8" cy="905.9" r="12.9"/><circle cx="635.5" cy="910.1" r="12.9"/><circle cx="641.3" cy="910.9" r="12.9"/><circle cx="647.1" cy="904.9" r="12.9"/><circle cx="652.8" cy="907.1" r="12.9"/><circle cx="658.6" cy="900.9" r="12.9"/><circle cx="664.4" cy="887.1" r="12.9"/><circle cx="670.1" cy="903.8" r="12.9"/><circle cx="675.9" cy="913.4" r="12.9"/><circle cx="681.7" cy="895.4" r="12.9"/><circle cx="687.4" cy="901.4" r="12.9"/><circle cx="693.2" cy="894.9" r="12.9"/><circle cx="699.0" cy="902.1" r="12.9"/><circle cx="704.7" cy="900.9" r="12.9"/><circle cx="710.5" cy="886.6" r="12.9"/><circle cx="716.3" cy="892.8" r="12.9"/><circle cx="722.0" cy="885.4" r="12.9"/><circle cx="727.8" cy="898.4" r="12.9"/><circle cx="733.6" cy="869.6" r="12.9"/><circle cx="739.4" cy="886.2" r="12.9"/><circle cx="745.1" cy="892.1" r="12.9"/><circle cx="750.9" cy="870.4" r="12.9"/><circle cx="756.6" cy="895.9" r="12.9"/><circle cx="762.4" cy="882.9" r="12.9"/><circle cx="768.2" cy="875.8" r="12.9"/><circle cx="774.0" cy="880.9" r="12.9"/><circle cx="779.7" cy="866.1" r="12.9"/><circle cx="785.5" cy="870.8" r="12.9"/><circle cx="791.2" cy="865.6" r="12.9"/><circle cx="797.0" cy="870.5" r="12.9"/><circle cx="802.8" cy="849.1" r="12.9"/><circle cx="808.5" cy="869.2" r="12.9"/><circle cx="814.3" cy="876.6" r="12.9"/><circle cx="820.1" cy="864.6" r="12.9"/><circle cx="825.9" cy="845.9" r="12.9"/><circle cx="831.6" cy="864.6" r="12.9"/><circle cx="837.4" cy="847.4" r="12.9"/><circle cx="843.2" cy="858.1" r="12.9"/><circle cx="848.9" cy="856.9" r="12.9"/><circle cx="854.7" cy="867.6" r="12.9"/><circle cx="860.5" cy="850.4" r="12.9"/><circle cx="866.2" cy="854.0" r="12.9"/><circle cx="872.0" cy="853.4" r="12.9"/><circle cx="877.8" cy="849.1" r="12.9"/><circle cx="883.5" cy="850.9" r="12.9"/><circle cx="889.3" cy="845.4" r="12.9"/><circle cx="895.1" cy="834.1" r="12.9"/><circle cx="900.8" cy="833.2" r="12.9"/><circle cx="906.6" cy="829.6" r="12.9"/><circle cx="912.4" cy="828.4" r="12.9"/><circle cx="918.1" cy="823.4" r="12.9"/><circle cx="923.9" cy="826.6" r="12.9"/><circle cx="929.7" cy="833.9" r="12.9"/><circle cx="935.4" cy="823.3" r="12.9"/><circle cx="941.2" cy="811.6" r="12.9"/><circle cx="947.0" cy="821.1" r="12.9"/><circle cx="952.7" cy="826.6" r="12.9"/><circle cx="958.5" cy="817.9" r="12.9"/><circle cx="964.3" cy="818.2" r="12.9"/><circle cx="970.0" cy="823.4" r="12.9"/><circle cx="975.8" cy="799.9" r="12.9"/><circle cx="981.6" cy="817.2" r="12.9"/><circle cx="987.3" cy="804.9" r="12.9"/><circle cx="993.1" cy="819.0" r="12.9"/><circle cx="998.9" cy="827.9" r="12.9"/><circle cx="1004.6" cy="818.4" r="12.9"/><circle cx="1010.4" cy="808.9" r="12.9"/><circle cx="1016.2" cy="799.9" r="12.9"/><circle cx="1022.0" cy="807.6" r="12.9"/><circle cx="1027.7" cy="812.4" r="12.9"/><circle cx="1033.5" cy="799.1" r="12.9"/><circle cx="1039.2" cy="817.4" r="12.9"/><circle cx="1045.0" cy="799.6" r="12.9"/><circle cx="1050.8" cy="787.9" r="12.9"/><circle cx="1056.5" cy="789.9" r="12.9"/><circle cx="1062.3" cy="775.9" r="12.9"/><circle cx="1068.1" cy="799.9" r="12.9"/><circle cx="1073.8" cy="789.4" r="12.9"/><circle cx="1079.6" cy="777.4" r="12.9"/><circle cx="1085.4" cy="784.6" r="12.9"/><circle cx="1091.2" cy="790.1" r="12.9"/><circle cx="1096.9" cy="789.6" r="12.9"/><circle cx="1102.7" cy="762.1" r="12.9"/><circle cx="1108.5" cy="773.7" r="12.9"/><circle cx="1114.2" cy="762.1" r="12.9"/><circle cx="1120.0" cy="773.8" r="12.9"/><circle cx="1125.8" cy="757.8" r="12.9"/><circle cx="1131.5" cy="743.6" r="12.9"/><circle cx="1137.3" cy="755.1" r="12.9"/><circle cx="1143.1" cy="768.8" r="12.9"/><circle cx="1148.8" cy="754.1" r="12.9"/><circle cx="1154.6" cy="757.4" r="12.9"/><circle cx="1160.4" cy="728.4" r="12.9"/><circle cx="1166.1" cy="754.1" r="12.9"/><circle cx="1171.9" cy="744.4" r="12.9"/><circle cx="1177.7" cy="740.4" r="12.9"/><circle cx="1183.4" cy="757.1" r="12.9"/><circle cx="1189.2" cy="736.6" r="12.9"/><circle cx="1195.0" cy="743.6" r="12.9"/><circle cx="1200.7" cy="735.4" r="12.9"/><circle cx="1206.5" cy="745.1" r="12.9"/><circle cx="1212.3" cy="731.6" r="12.9"/><circle cx="1218.0" cy="737.0" r="12.9"/><circle cx="1223.8" cy="726.6" r="12.9"/><circle cx="1229.6" cy="731.8" r="12.9"/><circle cx="1235.3" cy="744.6" r="12.9"/><circle cx="1241.1" cy="726.2" r="12.9"/><circle cx="1246.9" cy="715.4" r="12.9"/><circle cx="1252.6" cy="714.9" r="12.9"/><circle cx="1258.4" cy="721.6" r="12.9"/><circle cx="1264.2" cy="715.1" r="12.9"/><circle cx="1269.9" cy="715.9" r="12.9"/><circle cx="1275.7" cy="707.9" r="12.9"/><circle cx="1281.5" cy="713.8" r="12.9"/><circle cx="1287.2" cy="714.5" r="12.9"/><circle cx="1293.0" cy="704.5" r="12.9"/><circle cx="1298.8" cy="728.4" r="12.9"/><circle cx="1304.5" cy="706.2" r="12.9"/><circle cx="1310.3" cy="712.8" r="12.9"/><circle cx="1316.1" cy="713.8" r="12.9"/><circle cx="1321.8" cy="719.6" r="12.9"/><circle cx="1327.6" cy="700.6" r="12.9"/><circle cx="1333.4" cy="704.0" r="12.9"/><circle cx="1339.2" cy="707.1" r="12.9"/><circle cx="1344.9" cy="689.1" r="12.9"/><circle cx="1350.7" cy="701.3" r="12.9"/><circle cx="1356.5" cy="699.6" r="12.9"/><circle cx="1362.2" cy="711.5" r="12.9"/><circle cx="1368.0" cy="694.1" r="12.9"/><circle cx="1373.8" cy="694.5" r="12.9"/><circle cx="1379.5" cy="696.1" r="12.9"/><circle cx="1385.3" cy="674.9" r="12.9"/><circle cx="1391.0" cy="683.7" r="12.9"/><circle cx="1396.8" cy="687.1" r="12.9"/><circle cx="1402.6" cy="685.4" r="12.9"/><circle cx="1408.4" cy="684.1" r="12.9"/><circle cx="1414.1" cy="692.6" r="12.9"/><circle cx="1419.9" cy="680.1" r="12.9"/><circle cx="1425.7" cy="686.8" r="12.9"/><circle cx="1431.4" cy="680.1" r="12.9"/><circle cx="1437.2" cy="694.4" r="12.9"/><circle cx="1443.0" cy="680.9" r="12.9"/><circle cx="1448.7" cy="695.5" r="12.9"/><circle cx="1454.5" cy="690.4" r="12.9"/><circle cx="1460.3" cy="673.4" r="12.9"/><circle cx="1466.0" cy="704.1" r="12.9"/><circle cx="1471.8" cy="685.7" r="12.9"/><circle cx="1477.6" cy="679.9" r="12.9"/><circle cx="1483.3" cy="688.4" r="12.9"/><circle cx="1489.1" cy="679.1" r="12.9"/><circle cx="1494.9" cy="675.1" r="12.9"/><circle cx="1500.6" cy="662.9" r="12.9"/><circle cx="1506.4" cy="661.6" r="12.9"/><circle cx="1512.2" cy="672.6" r="12.9"/><circle cx="1517.9" cy="665.0" r="12.9"/><circle cx="1523.7" cy="654.6" r="12.9"/><circle cx="1529.5" cy="675.9" r="12.9"/><circle cx="1535.2" cy="673.4" r="12.9"/><circle cx="1541.0" cy="660.4" r="12.9"/><circle cx="1546.8" cy="665.1" r="12.9"/><circle cx="1552.5" cy="657.2" r="12.9"/><circle cx="1558.3" cy="648.6" r="12.9"/><circle cx="1564.1" cy="657.6" r="12.9"/><circle cx="1569.8" cy="664.1" r="12.9"/><circle cx="1575.6" cy="655.4" r="12.9"/><circle cx="1581.4" cy="656.3" r="12.9"/><circle cx="1587.1" cy="644.9" r="12.9"/><circle cx="1592.9" cy="652.9" r="12.9"/><circle cx="1598.7" cy="660.1" r="12.9"/><circle cx="1604.5" cy="634.6" r="12.9"/><circle cx="1610.2" cy="641.1" r="12.9"/><circle cx="1616.0" cy="652.1" r="12.9"/><circle cx="1621.8" cy="637.9" r="12.9"/><circle cx="1627.5" cy="628.4" r="12.9"/><circle cx="1633.3" cy="653.4" r="12.9"/><circle cx="1639.0" cy="640.0" r="12.9"/>
</g>
<g fill="#ff00ff" stroke="none">
<polyline fill="none" stroke="#ff00ff" stroke-width="1.3" points="341.4,970.0 347.2,967.9 352.9,990.0 358.7,985.4 364.5,997.5 370.2,994.6 376.0,1003.8 381.8,991.6 387.5,1008.8 393.3,1004.4 399.1,1001.6 404.8,1013.8 410.6,1008.4 416.4,1015.5 422.1,1016.2 427.9,1002.9 433.7,1009.3 439.4,1026.2 445.2,1006.2 451.0,996.6 456.8,1003.6 462.5,1009.0 468.3,1014.6 474.1,1007.1 479.8,991.6 485.6,991.6 491.4,1001.5 497.1,995.4 502.9,1017.5 508.6,1017.0 514.4,1004.1 520.2,1005.1 526.0,1001.4 531.7,992.1 537.5,999.6 543.3,995.6 549.0,989.9 554.8,997.6 560.6,995.4 566.3,1004.6 572.1,999.0 577.9,998.3 583.6,997.6 589.4,992.1 595.2,1000.9 600.9,995.8 606.7,989.6 612.5,996.0 618.2,1002.1 624.0,996.9 629.8,992.1 635.5,997.7 641.3,992.9 647.1,1003.4 652.8,995.3 658.6,985.4 664.4,993.3 670.1,984.9 675.9,993.3 681.7,999.6 687.4,989.1 693.2,995.5 699.0,1006.6 704.7,982.1 710.5,1002.1 716.3,996.1 722.0,984.5 727.8,974.6 733.6,989.1 739.4,987.5 745.1,1014.0 750.9,1002.4 756.6,993.5 762.4,984.9 768.2,992.9 774.0,995.9 779.7,989.1 785.5,994.6 791.2,989.1 797.0,987.3 802.8,989.6 808.5,984.9 814.3,977.4 820.1,984.8 825.9,985.3 831.6,977.9 837.4,994.6 843.2,985.3 848.9,983.6 854.7,974.9 860.5,975.4 866.2,992.6 872.0,986.7 877.8,984.1 883.5,987.5 889.3,987.0 895.1,990.9 900.8,981.6 906.6,982.9 912.4,984.6 918.1,980.5 923.9,971.1 929.7,992.6 935.4,984.6 941.2,974.1 947.0,984.6 952.7,992.6 958.5,971.6 964.3,980.0 970.0,972.4 975.8,983.4 981.6,980.8 987.3,981.6 993.1,982.6 998.9,980.9 1004.6,975.4 1010.4,980.8 1016.2,989.6 1022.0,970.4 1027.7,981.1 1033.5,988.9 1039.2,956.6 1045.0,967.3 1050.8,978.3 1056.5,964.6 1062.3,984.6 1068.1,971.6 1073.8,975.9 1079.6,980.9 1085.4,974.2 1091.2,964.1 1096.9,977.6 1102.7,987.1 1108.5,976.6 1114.2,967.5 1120.0,958.4 1125.8,977.1 1131.5,973.0 1137.3,971.6 1143.1,976.4 1148.8,984.1 1154.6,967.9 1160.4,972.9 1166.1,970.6 1171.9,959.1 1177.7,967.9 1183.4,963.0 1189.2,952.9 1195.0,970.9 1200.7,963.6 1206.5,952.9 1212.3,964.4 1218.0,973.9 1223.8,967.3 1229.6,964.1 1235.3,966.0 1241.1,971.6 1246.9,962.5 1252.6,946.6 1258.4,968.4 1264.2,945.4 1269.9,968.4 1275.7,956.9 1281.5,962.9 1287.2,972.1 1293.0,954.1 1298.8,969.6 1304.5,959.2 1310.3,950.4 1316.1,960.9 1321.8,958.5 1327.6,956.6 1333.4,961.6 1339.2,967.1 1344.9,963.3 1350.7,960.9 1356.5,963.7 1362.2,965.9 1368.0,961.6 1373.8,964.6 1379.5,960.9 1385.3,959.8 1391.0,952.9 1396.8,958.0 1402.6,964.6 1408.4,955.8 1414.1,954.4 1419.9,953.0 1425.7,943.6 1431.4,958.4 1437.2,950.9 1443.0,952.2 1448.7,949.5 1454.5,962.1 1460.3,940.4 1466.0,946.5 1471.8,949.6 1477.6,936.6 1483.3,945.4 1489.1,960.9 1494.9,946.9 1500.6,957.1 1506.4,940.4 1512.2,949.1 1517.9,944.1 1523.7,954.6 1529.5,954.6 1535.2,948.2 1541.0,939.9 1546.8,949.4 1552.5,958.4 1558.3,944.1 1564.1,949.2 1569.8,949.8 1575.6,957.6 1581.4,929.1 1587.1,941.0 1592.9,950.9 1598.7,940.9 1604.5,945.4 1610.2,945.2 1616.0,949.6 1621.8,939.9 1627.5,943.9 1633.3,945.1 1639.0,944.0"/>
<circle cx="341.4" cy="970.0" r="12.9"/><circle cx="347.2" cy="967.9" r="12.9"/><circle cx="352.9" cy="990.0" r="12.9"/><circle cx="358.7" cy="985.4" r="12.9"/><circle cx="364.5" cy="997.5" r="12.9"/><circle cx="370.2" cy="994.6" r="12.9"/><circle cx="376.0" cy="1003.8" r="12.9"/><circle cx="381.8" cy="991.6" r="12.9"/><circle cx="387.5" cy="1008.8" r="12.9"/><circle cx="393.3" cy="1004.4" r="12.9"/><circle cx="399.1" cy="1001.6" r="12.9"/><circle cx="404.8" cy="1013.8" r="12.9"/><circle cx="410.6" cy="1008.4" r="12.9"/><circle cx="416.4" cy="1015.5" r="12.9"/><circle cx="422.1" cy="1016.2" r="12.9"/><circle cx="427.9" cy="1002.9" r="12.9"/><circle cx="433.7" cy="1009.3" r="12.9"/><circle cx="439.4" cy="1026.2" r="12.9"/><circle cx="445.2" cy="1006.2" r="12.9"/><circle cx="451.0" cy="996.6" r="12.9"/><circle cx="456.8" cy="1003.6" r="12.9"/><circle cx="462.5" cy="1009.0" r="12.9"/><circle cx="468.3" cy="1014.6" r="12.9"/><circle cx="474.1" cy="1007.1" r="12.9"/><circle cx="479.8" cy="991.6" r="12.9"/><circle cx="485.6" cy="991.6" r="12.9"/><circle cx="491.4" cy="1001.5" r="12.9"/><circle cx="497.1" cy="995.4" r="12.9"/><circle cx="502.9" cy="1017.5" r="12.9"/><circle cx="508.6" cy="1017.0" r="12.9"/><circle cx="514.4" cy="1004.1" r="12.9"/><circle cx="520.2" cy="1005.1" r="12.9"/><circle cx="526.0" cy="1001.4" r="12.9"/><circle cx="531.7" cy="992.1" r="12.9"/><circle cx="537.5" cy="999.6" r="12.9"/><circle cx="543.3" cy="995.6" r="12.9"/><circle cx="549.0" cy="989.9" r="12.9"/><circle cx="554.8" cy="997.6" r="12.9"/><circle cx="560.6" cy="995.4" r="12.9"/><circle cx="566.3" cy="1004.6" r="12.9"/><circle cx="572.1" cy="999.0" r="12.9"/><circle cx="577.9" cy="998.3" r="12.9"/><circle cx="583.6" cy="997.6" r="12.9"/><circle cx="589.4" cy="992.1" r="12.9"/><circle cx="595.2" cy="1000.9" r="12.9"/><circle cx="600.9" cy="995.8" r="12.9"/><circle cx="606.7" cy="989.6" r="12.9"/><circle cx="612.5" cy="996.0" r="12.9"/><circle cx="618.2" cy="1002.1" r="12.9"/><circle cx="624.0" cy="996.9" r="12.9"/><circle cx="629.8" cy="992.1" r="12.9"/><circle cx="635.5" cy="997.7" r="12.9"/><circle cx="641.3" cy="992.9" r="12.9"/><circle cx="647.1" cy="1003.4" r="12.9"/><circle cx="652.8" cy="995.3" r="12.9"/><circle cx="658.6" cy="985.4" r="12.9"/><circle cx="664.4" cy="993.3" r="12.9"/><circle cx="670.1" cy="984.9" r="12.9"/><circle cx="675.9" cy="993.3" r="12.9"/><circle cx="681.7" cy="999.6" r="12.9"/><circle cx="687.4" cy="989.1" r="12.9"/><circle cx="693.2" cy="995.5" r="12.9"/><circle cx="699.0" cy="1006.6" r="12.9"/><circle cx="704.7" cy="982.1" r="12.9"/><circle cx="710.5" cy="1002.1" r="12.9"/><circle cx="716.3" cy="996.1" r="12.9"/><circle cx="722.0" cy="984.5" r="12.9"/><circle cx="727.8" cy="974.6" r="12.9"/><circle cx="733.6" cy="989.1" r="12.9"/><circle cx="739.4" cy="987.5" r="12.9"/><circle cx="745.1" cy="1014.0" r="12.9"/><circle cx="750.9" cy="1002.4" r="12.9"/><circle cx="756.6" cy="993.5" r="12.9"/><circle cx="762.4" cy="984.9" r="12.9"/><circle cx="768.2" cy="992.9" r="12.9"/><circle cx="774.0" cy="995.9" r="12.9"/><circle cx="779.7" cy="989.1" r="12.9"/><circle cx="785.5" cy="994.6" r="12.9"/><circle cx="791.2" cy="989.1" r="12.9"/><circle cx="797.0" cy="987.3" r="12.9"/><circle cx="802.8" cy="989.6" r="12.9"/><circle cx="808.5" cy="984.9" r="12.9"/><circle cx="814.3" cy="977.4" r="12.9"/><circle cx="820.1" cy="984.8" r="12.9"/><circle cx="825.9" cy="985.3" r="12.9"/><circle cx="831.6" cy="977.9" r="12.9"/><circle cx="837.4" cy="994.6" r="12.9"/><circle cx="843.2" cy="985.3" r="12.9"/><circle cx="848.9" cy="983.6" r="12.9"/><circle cx="854.7" cy="974.9" r="12.9"/><circle cx="860.5" cy="975.4" r="12.9"/><circle cx="866.2" cy="992.6" r="12.9"/><circle cx="872.0" cy="986.7" r="12.9"/><circle cx="877.8" cy="984.1" r="12.9"/><circle cx="883.5" cy="987.5" r="12.9"/><circle cx="889.3" cy="987.0" r="12.9"/><circle cx="895.1" cy="990.9" r="12.9"/><circle cx="900.8" cy="981.6" r="12.9"/><circle cx="906.6" cy="982.9" r="12.9"/><circle cx="912.4" cy="984.6" r="12.9"/><circle cx="918.1" cy="980.5" r="12.9"/><circle cx="923.9" cy="971.1" r="12.9"/><circle cx="929.7" cy="992.6" r="12.9"/><circle cx="935.4" cy="984.6" r="12.9"/><circle cx="941.2" cy="974.1" r="12.9"/><circle cx="947.0" cy="984.6" r="12.9"/><circle cx="952.7" cy="992.6" r="12.9"/><circle cx="958.5" cy="971.6" r="12.9"/><circle cx="964.3" cy="980.0" r="12.9"/><circle cx="970.0" cy="972.4" r="12.9"/><circle cx="975.8" cy="983.4" r="12.9"/><circle cx="981.6" cy="980.8" r="12.9"/><circle cx="987.3" cy="981.6" r="12.9"/><circle cx="993.1" cy="982.6" r="12.9"/><circle cx="998.9" cy="980.9" r="12.9"/><circle cx="1004.6" cy="975.4" r="12.9"/><circle cx="1010.4" cy="980.8" r="12.9"/><circle cx="1016.2" cy="989.6" r="12.9"/><circle cx="1022.0" cy="970.4" r="12.9"/><circle cx="1027.7" cy="981.1" r="12.9"/><circle cx="1033.5" cy="988.9" r="12.9"/><circle cx="1039.2" cy="956.6" r="12.9"/><circle cx="1045.0" cy="967.3" r="12.9"/><circle cx="1050.8" cy="978.3" r="12.9"/><circle cx="1056.5" cy="964.6" r="12.9"/><circle cx="1062.3" cy="984.6" r="12.9"/><circle cx="1068.1" cy="971.6" r="12.9"/><circle cx="1073.8" cy="975.9" r="12.9"/><circle cx="1079.6" cy="980.9" r="12.9"/><circle cx="1085.4" cy="974.2" r="12.9"/><circle cx="1091.2" cy="964.1" r="12.9"/><circle cx="1096.9" cy="977.6" r="12.9"/><circle cx="1102.7" cy="987.1" r="12.9"/><circle cx="1108.5" cy="976.6" r="12.9"/><circle cx="1114.2" cy="967.5" r="12.9"/><circle cx="1120.0" cy="958.4" r="12.9"/><circle cx="1125.8" cy="977.1" r="12.9"/><circle cx="1131.5" cy="973.0" r="12.9"/><circle cx="1137.3" cy="971.6" r="12.9"/><circle cx="1143.1" cy="976.4" r="12.9"/><circle cx="1148.8" cy="984.1" r="12.9"/><circle cx="1154.6" cy="967.9" r="12.9"/><circle cx="1160.4" cy="972.9" r="12.9"/><circle cx="1166.1" cy="970.6" r="12.9"/><circle cx="1171.9" cy="959.1" r="12.9"/><circle cx="1177.7" cy="967.9" r="12.9"/><circle cx="1183.4" cy="963.0" r="12.9"/><circle cx="1189.2" cy="952.9" r="12.9"/><circle cx="1195.0" cy="970.9" r="12.9"/><circle cx="1200.7" cy="963.6" r="12.9"/><circle cx="1206.5" cy="952.9" r="12.9"/><circle cx="1212.3" cy="964.4" r="12.9"/><circle cx="1218.0" cy="973.9" r="12.9"/><circle cx="1223.8" cy="967.3" r="12.9"/><circle cx="1229.6" cy="964.1" r="12.9"/><circle cx="1235.3" cy="966.0" r="12.9"/><circle cx="1241.1" cy="971.6" r="12.9"/><circle cx="1246.9" cy="962.5" r="12.9"/><circle cx="1252.6" cy="946.6" r="12.9"/><circle cx="1258.4" cy="968.4" r="12.9"/><circle cx="1264.2" cy="945.4" r="12.9"/><circle cx="1269.9" cy="968.4" r="12.9"/><circle cx="1275.7" cy="956.9" r="12.9"/><circle cx="1281.5" cy="962.9" r="12.9"/><circle cx="1287.2" cy="972.1" r="12.9"/><circle cx="1293.0" cy="954.1" r="12.9"/><circle cx="1298.8" cy="969.6" r="12.9"/><circle cx="1304.5" cy="959.2" r="12.9"/><circle cx="1310.3" cy="950.4" r="12.9"/><circle cx="1316.1" cy="960.9" r="12.9"/><circle cx="1321.8" cy="958.5" r="12.9"/><circle cx="1327.6" cy="956.6" r="12.9"/><circle cx="1333.4" cy="961.6" r="12.9"/><circle cx="1339.2" cy="967.1" r="12.9"/><circle cx="1344.9" cy="963.3" r="12.9"/><circle cx="1350.7" cy="960.9" r="12.9"/><circle cx="1356.5" cy="963.7" r="12.9"/><circle cx="1362.2" cy="965.9" r="12.9"/><circle cx="1368.0" cy="961.6" r="12.9"/><circle cx="1373.8" cy="964.6" r="12.9"/><circle cx="1379.5" cy="960.9" r="12.9"/><circle cx="1385.3" cy="959.8" r="12.9"/><circle cx="1391.0" cy="952.9" r="12.9"/><circle cx="1396.8" cy="958.0" r="12.9"/><circle cx="1402.6" cy="964.6" r="12.9"/><circle cx="1408.4" cy="955.8" r="12.9"/><circle cx="1414.1" cy="954.4" r="12.9"/><circle cx="1419.9" cy="953.0" r="12.9"/><circle cx="1425.7" cy="943.6" r="12.9"/><circle cx="1431.4" cy="958.4" r="12.9"/><circle cx="1437.2" cy="950.9" r="12.9"/><circle cx="1443.0" cy="952.2" r="12.9"/><circle cx="1448.7" cy="949.5" r="12.9"/><circle cx="1454.5" cy="962.1" r="12.9"/><circle cx="1460.3" cy="940.4" r="12.9"/><circle cx="1466.0" cy="946.5" r="12.9"/><circle cx="1471.8" cy="949.6" r="12.9"/><circle cx="1477.6" cy="936.6" r="12.9"/><circle cx="1483.3" cy="945.4" r="12.9"/><circle cx="1489.1" cy="960.9" r="12.9"/><circle cx="1494.9" cy="946.9" r="12.9"/><circle cx="1500.6" cy="957.1" r="12.9"/><circle cx="1506.4" cy="940.4" r="12.9"/><circle cx="1512.2" cy="949.1" r="12.9"/><circle cx="1517.9" cy="944.1" r="12.9"/><circle cx="1523.7" cy="954.6" r="12.9"/><circle cx="1529.5" cy="954.6" r="12.9"/><circle cx="1535.2" cy="948.2" r="12.9"/><circle cx="1541.0" cy="939.9" r="12.9"/><circle cx="1546.8" cy="949.4" r="12.9"/><circle cx="1552.5" cy="958.4" r="12.9"/><circle cx="1558.3" cy="944.1" r="12.9"/><circle cx="1564.1" cy="949.2" r="12.9"/><circle cx="1569.8" cy="949.8" r="12.9"/><circle cx="1575.6" cy="957.6" r="12.9"/><circle cx="1581.4" cy="929.1" r="12.9"/><circle cx="1587.1" cy="941.0" r="12.9"/><circle cx="1592.9" cy="950.9" r="12.9"/><circle cx="1598.7" cy="940.9" r="12.9"/><circle cx="1604.5" cy="945.4" r="12.9"/><circle cx="1610.2" cy="945.2" r="12.9"/><circle cx="1616.0" cy="949.6" r="12.9"/><circle cx="1621.8" cy="939.9" r="12.9"/><circle cx="1627.5" cy="943.9" r="12.9"/><circle cx="1633.3" cy="945.1" r="12.9"/><circle cx="1639.0" cy="944.0" r="12.9"/>
</g>
<g fill="#008000" stroke="none">
<polyline fill="none" stroke="#008000" stroke-width="1.3" points="341.4,1004.0 347.2,1022.1 352.9,1017.3 358.7,1020.1 364.5,1030.9 370.2,1017.9 376.0,1032.0 381.8,1045.9 387.5,1041.5 393.3,1039.1 399.1,1047.6 404.8,1059.1 410.6,1047.7 416.4,1039.9 422.1,1050.0 427.9,1044.1 433.7,1070.1 439.4,1059.3 445.2,1051.9 451.0,1061.6 456.8,1051.7 462.5,1043.6 468.3,1051.7 474.1,1065.9 479.8,1051.9 485.6,1054.0 491.4,1060.1 497.1,1044.1 502.9,1050.7 508.6,1043.6 514.4,1048.9 520.2,1053.4 526.0,1047.5 531.7,1047.2 537.5,1040.9 543.3,1046.1 549.0,1052.1 554.8,1037.9 560.6,1042.7 566.3,1051.3 572.1,1061.6 577.9,1025.4 583.6,1038.1 589.4,1045.6 595.2,1050.9 600.9,1044.1 606.7,1054.6 612.5,1048.4 618.2,1057.1 624.0,1051.3 629.8,1044.2 635.5,1034.6 641.3,1065.9 647.1,1058.0 652.8,1045.1 658.6,1037.9 664.4,1049.2 670.1,1066.6 675.9,1047.9 681.7,1056.1 687.4,1063.4 693.2,1054.7 699.0,1054.0 704.7,1059.6 710.5,1046.6 716.3,1047.5 722.0,1044.6 727.8,1042.9 733.6,1042.7 739.4,1045.1 745.1,1035.4 750.9,1042.7 756.6,1050.9 762.4,1046.0 768.2,1047.7 774.0,1041.1 779.7,1060.1 785.5,1048.6 791.2,1045.1 797.0,1035.9 802.8,1045.9 808.5,1035.9 814.3,1042.8 820.1,1044.5 825.9,1048.4 831.6,1046.6 837.4,1049.6 843.2,1046.8 848.9,1046.4 854.7,1039.1 860.5,1046.9 866.2,1055.1 872.0,1048.0 877.8,1048.2 883.5,1042.1 889.3,1054.6 895.1,1048.4 900.8,1048.4 906.6,1041.6 912.4,1048.0 918.1,1055.9 923.9,1045.9 929.7,1052.1 935.4,1035.4 941.2,1043.2 947.0,1058.4 952.7,1043.0 958.5,1034.9 964.3,1043.5 970.0,1044.2 975.8,1050.9 981.6,1043.2 987.3,1037.9 993.1,1045.9 998.9,1040.3 1004.6,1032.9 1010.4,1038.9 1016.2,1029.6 1022.0,1047.1 1027.7,1043.3 1033.5,1039.1 1039.2,1048.7 1045.0,1060.9 1050.8,1041.6 1056.5,1047.6 1062.3,1045.2 1068.1,1050.9 1073.8,1032.4 1079.6,1052.1 1085.4,1045.4 1091.2,1052.3 1096.9,1063.4 1102.7,1053.0 1108.5,1044.1 1114.2,1057.6 1120.0,1048.3 1125.8,1042.2 1131.5,1030.9 1137.3,1040.8 1143.1,1050.9 1148.8,1036.6 1154.6,1041.2 1160.4,1044.6 1166.1,1039.7 1171.9,1039.8 1177.7,1048.4 1183.4,1030.4 1189.2,1047.6 1195.0,1032.1 1200.7,1062.9 1206.5,1039.6 1212.3,1059.6 1218.0,1039.1 1223.8,1030.9 1229.6,1047.1 1235.3,1040.0 1241.1,1034.9 1246.9,1045.1 1252.6,1037.4 1258.4,1040.6 1264.2,1045.1 1269.9,1033.4 1275.7,1040.8 1281.5,1043.3 1287.2,1053.4 1293.0,1043.5 1298.8,1049.6 1304.5,1027.9 1310.3,1037.2 1316.1,1049.6 1321.8,1040.5 1327.6,1040.8 1333.4,1034.6 1339.2,1047.1 1344.9,1041.7 1350.7,1049.1 1356.5,1042.7 1362.2,1043.0 1368.0,1036.6 1373.8,1050.1 1379.5,1032.9 1385.3,1039.6 1391.0,1038.5 1396.8,1031.6 1402.6,1041.6 1408.4,1030.4 1414.1,1039.4 1419.9,1057.1 1425.7,1041.4 1431.4,1050.9 1437.2,1035.4 1443.0,1042.9 1448.7,1036.6 1454.5,1042.0 1460.3,1041.2 1466.0,1047.6 1471.8,1031.6 1477.6,1039.8 1483.3,1034.1 1489.1,1045.9 1494.9,1040.6 1500.6,1044.6 1506.4,1037.9 1512.2,1040.8 1517.9,1040.7 1523.7,1037.9 1529.5,1042.6 1535.2,1038.8 1541.0,1032.1 1546.8,1039.8 1552.5,1046.6 1558.3,1037.9 1564.1,1038.7 1569.8,1042.1 1575.6,1034.7 1581.4,1021.6 1587.1,1046.6 1592.9,1037.6 1598.7,1044.6 1604.5,1036.7 1610.2,1030.9 1616.0,1037.7 1621.8,1037.9 1627.5,1043.4 1633.3,1038.4 1639.0,1034.1"/>
<circle cx="341.4" cy="1004.0" r="12.9"/><circle cx="347.2" cy="1022.1" r="12.9"/><circle cx="352.9" cy="1017.3" r="12.9"/><circle cx="358.7" cy="1020.1" r="12.9"/><circle cx="364.5" cy="1030.9" r="12.9"/><circle cx="370.2" cy="1017.9" r="12.9"/><circle cx="376.0" cy="1032.0" r="12.9"/><circle cx="381.8" cy="1045.9" r="12.9"/><circle cx="387.5" cy="1041.5" r="12.9"/><circle cx="393.3" cy="1039.1" r="12.9"/><circle cx="399.1" cy="1047.6" r="12.9"/><circle cx="404.8" cy="1059.1" r="12.9"/><circle cx="410.6" cy="1047.7" r="12.9"/><circle cx="416.4" cy="1039.9" r="12.9"/><circle cx="422.1" cy="1050.0" r="12.9"/><circle cx="427.9" cy="1044.1" r="12.9"/><circle cx="433.7" cy="1070.1" r="12.9"/><circle cx="439.4" cy="1059.3" r="12.9"/><circle cx="445.2" cy="1051.9" r="12.9"/><circle cx="451.0" cy="1061.6" r="12.9"/><circle cx="456.8" cy="1051.7" r="12.9"/><circle cx="462.5" cy="1043.6" r="12.9"/><circle cx="468.3" cy="1051.7" r="12.9"/><circle cx="474.1" cy="1065.9" r="12.9"/><circle cx="479.8" cy="1051.9" r="12.9"/><circle cx="485.6" cy="1054.0" r="12.9"/><circle cx="491.4" cy="1060.1" r="12.9"/><circle cx="497.1" cy="1044.1" r="12.9"/><circle cx="502.9" cy="1050.7" r="12.9"/><circle cx="508.6" cy="1043.6" r="12.9"/><circle cx="514.4" cy="1048.9" r="12.9"/><circle cx="520.2" cy="1053.4" r="12.9"/><circle cx="526.0" cy="1047.5" r="12.9"/><circle cx="531.7" cy="1047.2" r="12.9"/><circle cx="537.5" cy="1040.9" r="12.9"/><circle cx="543.3" cy="1046.1" r="12.9"/><circle cx="549.0" cy="1052.1" r="12.9"/><circle cx="554.8" cy="1037.9" r="12.9"/><circle cx="560.6" cy="1042.7" r="12.9"/><circle cx="566.3" cy="1051.3" r="12.9"/><circle cx="572.1" cy="1061.6" r="12.9"/><circle cx="577.9" cy="1025.4" r="12.9"/><circle cx="583.6" cy="1038.1" r="12.9"/><circle cx="589.4" cy="1045.6" r="12.9"/><circle cx="595.2" cy="1050.9" r="12.9"/><circle cx="600.9" cy="1044.1" r="12.9"/><circle cx="606.7" cy="1054.6" r="12.9"/><circle cx="612.5" cy="1048.4" r="12.9"/><circle cx="618.2" cy="1057.1" r="12.9"/><circle cx="624.0" cy="1051.3" r="12.9"/><circle cx="629.8" cy="1044.2" r="12.9"/><circle cx="635.5" cy="1034.6" r="12.9"/><circle cx="641.3" cy="1065.9" r="12.9"/><circle cx="647.1" cy="1058.0" r="12.9"/><circle cx="652.8" cy="1045.1" r="12.9"/><circle cx="658.6" cy="1037.9" r="12.9"/><circle cx="664.4" cy="1049.2" r="12.9"/><circle cx="670.1" cy="1066.6" r="12.9"/><circle cx="675.9" cy="1047.9" r="12.9"/><circle cx="681.7" cy="1056.1" r="12.9"/><circle cx="687.4" cy="1063.4" r="12.9"/><circle cx="693.2" cy="1054.7" r="12.9"/><circle cx="699.0" cy="1054.0" r="12.9"/><circle cx="704.7" cy="1059.6" r="12.9"/><circle cx="710.5" cy="1046.6" r="12.9"/><circle cx="716.3" cy="1047.5" r="12.9"/><circle cx="722.0" cy="1044.6" r="12.9"/><circle cx="727.8" cy="1042.9" r="12.9"/><circle cx="733.6" cy="1042.7" r="12.9"/><circle cx="739.4" cy="1045.1" r="12.9"/><circle cx="745.1" cy="1035.4" r="12.9"/><circle cx="750.9" cy="1042.7" r="12.9"/><circle cx="756.6" cy="1050.9" r="12.9"/><circle cx="762.4" cy="1046.0" r="12.9"/><circle cx="768.2" cy="1047.7" r="12.9"/><circle cx="774.0" cy="1041.1" r="12.9"/><circle cx="779.7" cy="1060.1" r="12.9"/><circle cx="785.5" cy="1048.6" r="12.9"/><circle cx="791.2" cy="1045.1" r="12.9"/><circle cx="797.0" cy="1035.9" r="12.9"/><circle cx="802.8" cy="1045.9" r="12.9"/><circle cx="808.5" cy="1035.9" r="12.9"/><circle cx="814.3" cy="1042.8" r="12.9"/><circle cx="820.1" cy="1044.5" r="12.9"/><circle cx="825.9" cy="1048.4" r="12.9"/><circle cx="831.6" cy="1046.6" r="12.9"/><circle cx="837.4" cy="1049.6" r="12.9"/><circle cx="843.2" cy="1046.8" r="12.9"/><circle cx="848.9" cy="1046.4" r="12.9"/><circle cx="854.7" cy="1039.1" r="12.9"/><circle cx="860.5" cy="1046.9" r="12.9"/><circle cx="866.2" cy="1055.1" r="12.9"/><circle cx="872.0" cy="1048.0" r="12.9"/><circle cx="877.8" cy="1048.2" r="12.9"/><circle cx="883.5" cy="1042.1" r="12.9"/><circle cx="889.3" cy="1054.6" r="12.9"/><circle cx="895.1" cy="1048.4" r="12.9"/><circle cx="900.8" cy="1048.4" r="12.9"/><circle cx="906.6" cy="1041.6" r="12.9"/><circle cx="912.4" cy="1048.0" r="12.9"/><circle cx="918.1" cy="1055.9" r="12.9"/><circle cx="923.9" cy="1045.9" r="12.9"/><circle cx="929.7" cy="1052.1" r="12.9"/><circle cx="935.4" cy="1035.4" r="12.9"/><circle cx="941.2" cy="1043.2" r="12.9"/><circle cx="947.0" cy="1058.4" r="12.9"/><circle cx="952.7" cy="1043.0" r="12.9"/><circle cx="958.5" cy="1034.9" r="12.9"/><circle cx="964.3" cy="1043.5" r="12.9"/><circle cx="970.0" cy="1044.2" r="12.9"/><circle cx="975.8" cy="1050.9" r="12.9"/><circle cx="981.6" cy="1043.2" r="12.9"/><circle cx="987.3" cy="1037.9" r="12.9"/><circle cx="993.1" cy="1045.9" r="12.9"/><circle cx="998.9" cy="1040.3" r="12.9"/><circle cx="1004.6" cy="1032.9" r="12.9"/><circle cx="1010.4" cy="1038.9" r="12.9"/><circle cx="1016.2" cy="1029.6" r="12.9"/><circle cx="1022.0" cy="1047.1" r="12.9"/><circle cx="1027.7" cy="1043.3" r="12.9"/><circle cx="1033.5" cy="1039.1" r="12.9"/><circle cx="1039.2" cy="1048.7" r="12.9"/><circle cx="1045.0" cy="1060.9" r="12.9"/><circle cx="1050.8" cy="1041.6" r="12.9"/><circle cx="1056.5" cy="1047.6" r="12.9"/><circle cx="1062.3" cy="1045.2" r="12.9"/><circle cx="1068.1" cy="1050.9" r="12.9"/><circle cx="1073.8" cy="1032.4" r="12.9"/><circle cx="1079.6" cy="1052.1" r="12.9"/><circle cx="1085.4" cy="1045.4" r="12.9"/><circle cx="1091.2" cy="1052.3" r="12.9"/><circle cx="1096.9" cy="1063.4" r="12.9"/><circle cx="1102.7" cy="1053.0" r="12.9"/><circle cx="1108.5" cy="1044.1" r="12.9"/><circle cx="1114.2" cy="1057.6" r="12.9"/><circle cx="1120.0" cy="1048.3" r="12.9"/><circle cx="1125.8" cy="1042.2" r="12.9"/><circle cx="1131.5" cy="1030.9" r="12.9"/><circle cx="1137.3" cy="1040.8" r="12.9"/><circle cx="1143.1" cy="1050.9" r="12.9"/><circle cx="1148.8" cy="1036.6" r="12.9"/><circle cx="1154.6" cy="1041.2" r="12.9"/><circle cx="1160.4" cy="1044.6" r="12.9"/><circle cx="1166.1" cy="1039.7" r="12.9"/><circle cx="1171.9" cy="1039.8" r="12.9"/><circle cx="1177.7" cy="1048.4" r="12.9"/><circle cx="1183.4" cy="1030.4" r="12.9"/><circle cx="1189.2" cy="1047.6" r="12.9"/><circle cx="1195.0" cy="1032.1" r="12.9"/><circle cx="1200.7" cy="1062.9" r="12.9"/><circle cx="1206.5" cy="1039.6" r="12.9"/><circle cx="1212.3" cy="1059.6" r="12.9"/><circle cx="1218.0" cy="1039.1" r="12.9"/><circle cx="1223.8" cy="1030.9" r="12.9"/><circle cx="1229.6" cy="1047.1" r="12.9"/><circle cx="1235.3" cy="1040.0" r="12.9"/><circle cx="1241.1" cy="1034.9" r="12.9"/><circle cx="1246.9" cy="1045.1" r="12.9"/><circle cx="1252.6" cy="1037.4" r="12.9"/><circle cx="1258.4" cy="1040.6" r="12.9"/><circle cx="1264.2" cy="1045.1" r="12.9"/><circle cx="1269.9" cy="1033.4" r="12.9"/><circle cx="1275.7" cy="1040.8" r="12.9"/><circle cx="1281.5" cy="1043.3" r="12.9"/><circle cx="1287.2" cy="1053.4" r="12.9"/><circle cx="1293.0" cy="1043.5" r="12.9"/><circle cx="1298.8" cy="1049.6" r="12.9"/><circle cx="1304.5" cy="1027.9" r="12.9"/><circle cx="1310.3" cy="1037.2" r="12.9"/><circle cx="1316.1" cy="1049.6" r="12.9"/><circle cx="1321.8" cy="1040.5" r="12.9"/><circle cx="1327.6" cy="1040.8" r="12.9"/><circle cx="1333.4" cy="1034.6" r="12.9"/><circle cx="1339.2" cy="1047.1" r="12.9"/><circle cx="1344.9" cy="1041.7" r="12.9"/><circle cx="1350.7" cy="1049.1" r="12.9"/><circle cx="1356.5" cy="1042.7" r="12.9"/><circle cx="1362.2" cy="1043.0" r="12.9"/><circle cx="1368.0" cy="1036.6" r="12.9"/><circle cx="1373.8" cy="1050.1" r="12.9"/><circle cx="1379.5" cy="1032.9" r="12.9"/><circle cx="1385.3" cy="1039.6" r="12.9"/><circle cx="1391.0" cy="1038.5" r="12.9"/><circle cx="1396.8" cy="1031.6" r="12.9"/><circle cx="1402.6" cy="1041.6" r="12.9"/><circle cx="1408.4" cy="1030.4" r="12.9"/><circle cx="1414.1" cy="1039.4" r="12.9"/><circle cx="1419.9" cy="1057.1" r="12.9"/><circle cx="1425.7" cy="1041.4" r="12.9"/><circle cx="1431.4" cy="1050.9" r="12.9"/><circle cx="1437.2" cy="1035.4" r="12.9"/><circle cx="1443.0" cy="1042.9" r="12.9"/><circle cx="1448.7" cy="1036.6" r="12.9"/><circle cx="1454.5" cy="1042.0" r="12.9"/><circle cx="1460.3" cy="1041.2" r="12.9"/><circle cx="1466.0" cy="1047.6" r="12.9"/><circle cx="1471.8" cy="1031.6" r="12.9"/><circle cx="1477.6" cy="1039.8" r="12.9"/><circle cx="1483.3" cy="1034.1" r="12.9"/><circle cx="1489.1" cy="1045.9" r="12.9"/><circle cx="1494.9" cy="1040.6" r="12.9"/><circle cx="1500.6" cy="1044.6" r="12.9"/><circle cx="1506.4" cy="1037.9" r="12.9"/><circle cx="1512.2" cy="1040.8" r="12.9"/><circle cx="1517.9" cy="1040.7" r="12.9"/><circle cx="1523.7" cy="1037.9" r="12.9"/><circle cx="1529.5" cy="1042.6" r="12.9"/><circle cx="1535.2" cy="1038.8" r="12.9"/><circle cx="1541.0" cy="1032.1" r="12.9"/><circle cx="1546.8" cy="1039.8" r="12.9"/><circle cx="1552.5" cy="1046.6" r="12.9"/><circle cx="1558.3" cy="1037.9" r="12.9"/><circle cx="1564.1" cy="1038.7" r="12.9"/><circle cx="1569.8" cy="1042.1" r="12.9"/><circle cx="1575.6" cy="1034.7" r="12.9"/><circle cx="1581.4" cy="1021.6" r="12.9"/><circle cx="1587.1" cy="1046.6" r="12.9"/><circle cx="1592.9" cy="1037.6" r="12.9"/><circle cx="1598.7" cy="1044.6" r="12.9"/><circle cx="1604.5" cy="1036.7" r="12.9"/><circle cx="1610.2" cy="1030.9" r="12.9"/><circle cx="1616.0" cy="1037.7" r="12.9"/><circle cx="1621.8" cy="1037.9" r="12.9"/><circle cx="1627.5" cy="1043.4" r="12.9"/><circle cx="1633.3" cy="1038.4" r="12.9"/><circle cx="1639.0" cy="1034.1" r="12.9"/>
</g>
</g>
<text class="tk" transform="translate(0 1023.26) scale(1 1.0200)" x="185.88 215.93 245.83 276.93" y="0">8000</text>
<text class="tk" transform="translate(0 833.98) scale(1 1.0200)" x="157.78 185.88 215.93 245.83 276.93" y="0">10000</text>
<text class="tk" transform="translate(0 644.70) scale(1 1.0200)" x="157.78 185.88 215.93 245.83 276.93" y="0">12000</text>
<text class="tk" transform="translate(0 455.41) scale(1 1.0200)" x="157.78 186.05 215.93 245.83 276.93" y="0">14000</text>
<text class="tk" transform="translate(0 266.13) scale(1 1.0200)" x="157.78 185.69 215.93 245.83 276.93" y="0">16000</text>
<text class="tk" transform="translate(0 76.85) scale(1 1.0200)" x="157.78 185.88 215.93 245.83 276.93" y="0">18000</text>
<text class="tk" transform="translate(0 1178.35) scale(1 1.0200)" x="326.23" y="0">0</text>
<text class="tk" transform="translate(0 1178.35) scale(1 1.0200)" x="586.84 614.79 644.79" y="0">100</text>
<text class="tk" transform="translate(0 1178.35) scale(1 1.0200)" x="872.66 903.16 933.16" y="0">200</text>
<text class="tk" transform="translate(0 1178.35) scale(1 1.0200)" x="1161.19 1191.53 1221.53" y="0">300</text>
<text class="tk" transform="translate(0 1178.35) scale(1 1.0200)" x="1449.57 1479.89 1509.89" y="0">400</text>
<text class="ax" font-size="69.1" text-anchor="middle" x="990.7" y="1261">Time (min)</text>
<text class="ax" font-size="68.7" text-anchor="middle" transform="translate(122.2 547.05) rotate(-90)">Intensity (a.u.)</text>
<line x1="1140" x2="1261" y1="103.3" y2="103.3" stroke="#000000" stroke-width="1.5"/>
<circle cx="1200.5" cy="103.3" r="12.87" fill="#000000"/>
<text class="lg" transform="translate(0 121.85) scale(1 1.0050)" y="0"><tspan x="1278.30 1306.64 1321.70">1.5</tspan><tspan x="1353.71" dy="-7.40" font-size="46.7">*</tspan><tspan x="1374.74 1403.08" dy="7.40">10</tspan><tspan class="sup" x="1432.62" dy="-25.2">6</tspan><tspan x="1451.88" dy="25.2"> cells</tspan></text>
<line x1="1140" x2="1261" y1="177.6" y2="177.6" stroke="#ff0000" stroke-width="1.5"/>
<circle cx="1200.5" cy="177.6" r="12.87" fill="#ff0000"/>
<text class="lg" transform="translate(0 196.15) scale(1 1.0050)" y="0"><tspan x="1276.50 1306.64 1321.70">7.5</tspan><tspan x="1353.71" dy="-7.40" font-size="46.7">*</tspan><tspan x="1374.74 1403.08" dy="7.40">10</tspan><tspan class="sup" x="1432.62" dy="-25.2">5</tspan><tspan x="1451.88" dy="25.2"> cells</tspan></text>
<line x1="1140" x2="1261" y1="252.2" y2="252.2" stroke="#0000ff" stroke-width="1.5"/>
<circle cx="1200.5" cy="252.2" r="12.87" fill="#0000ff"/>
<text class="lg" transform="translate(0 270.15) scale(1 1.0050)" y="0"><tspan x="1276.50 1306.64 1321.70">3.8</tspan><tspan x="1353.71" dy="-7.40" font-size="46.7">*</tspan><tspan x="1374.74 1403.08" dy="7.40">10</tspan><tspan class="sup" x="1432.62" dy="-25.2">5</tspan><tspan x="1451.88" dy="25.2"> cells</tspan></text>
<line x1="1140" x2="1261" y1="326.5" y2="326.5" stroke="#ff00ff" stroke-width="1.5"/>
<circle cx="1200.5" cy="326.5" r="12.87" fill="#ff00ff"/>
<text class="lg" transform="translate(0 344.45) scale(1 1.0050)" y="0"><tspan x="1278.30 1306.64 1321.70">1.9</tspan><tspan x="1353.71" dy="-7.40" font-size="46.7">*</tspan><tspan x="1374.74 1403.08" dy="7.40">10</tspan><tspan class="sup" x="1432.62" dy="-25.2">5</tspan><tspan x="1451.88" dy="25.2"> cells</tspan></text>
<line x1="1140" x2="1261" y1="392.9" y2="392.9" stroke="#008000" stroke-width="1.5"/>
<circle cx="1200.5" cy="392.9" r="12.87" fill="#008000"/>
<text class="lg" transform="translate(1276.50 410.65) scale(1 1.0050)">0 cells</text>
<g fill="#fff"><rect x="161.11" y="827.85" width="10.30" height="6.93"/><rect x="176.19" y="827.85" width="9.88" height="6.93"/><rect x="161.11" y="638.57" width="10.30" height="6.93"/><rect x="176.19" y="638.57" width="9.88" height="6.93"/><rect x="161.11" y="449.28" width="10.30" height="6.93"/><rect x="176.19" y="449.28" width="9.88" height="6.93"/><rect x="161.11" y="260.00" width="10.30" height="6.93"/><rect x="176.19" y="260.00" width="9.88" height="6.93"/><rect x="161.11" y="70.72" width="10.30" height="6.93"/><rect x="176.19" y="70.72" width="9.88" height="6.93"/><rect x="590.17" y="1172.22" width="10.30" height="6.93"/><rect x="605.26" y="1172.22" width="9.88" height="6.93"/><rect x="1281.63" y="115.78" width="10.30" height="6.87"/><rect x="1296.72" y="115.78" width="9.88" height="6.87"/><rect x="1378.07" y="115.78" width="10.30" height="6.87"/><rect x="1393.16" y="115.78" width="9.88" height="6.87"/><rect x="1378.07" y="190.08" width="10.30" height="6.87"/><rect x="1393.16" y="190.08" width="9.88" height="6.87"/><rect x="1378.07" y="264.08" width="10.30" height="6.87"/><rect x="1393.16" y="264.08" width="9.88" height="6.87"/><rect x="1281.63" y="338.38" width="10.30" height="6.87"/><rect x="1296.72" y="338.38" width="9.88" height="6.87"/><rect x="1378.07" y="338.38" width="10.30" height="6.87"/><rect x="1393.16" y="338.38" width="9.88" height="6.87"/><rect x="1639.0" y="58.0" width="2.4" height="1.75"/></g>
</svg></body></html>
